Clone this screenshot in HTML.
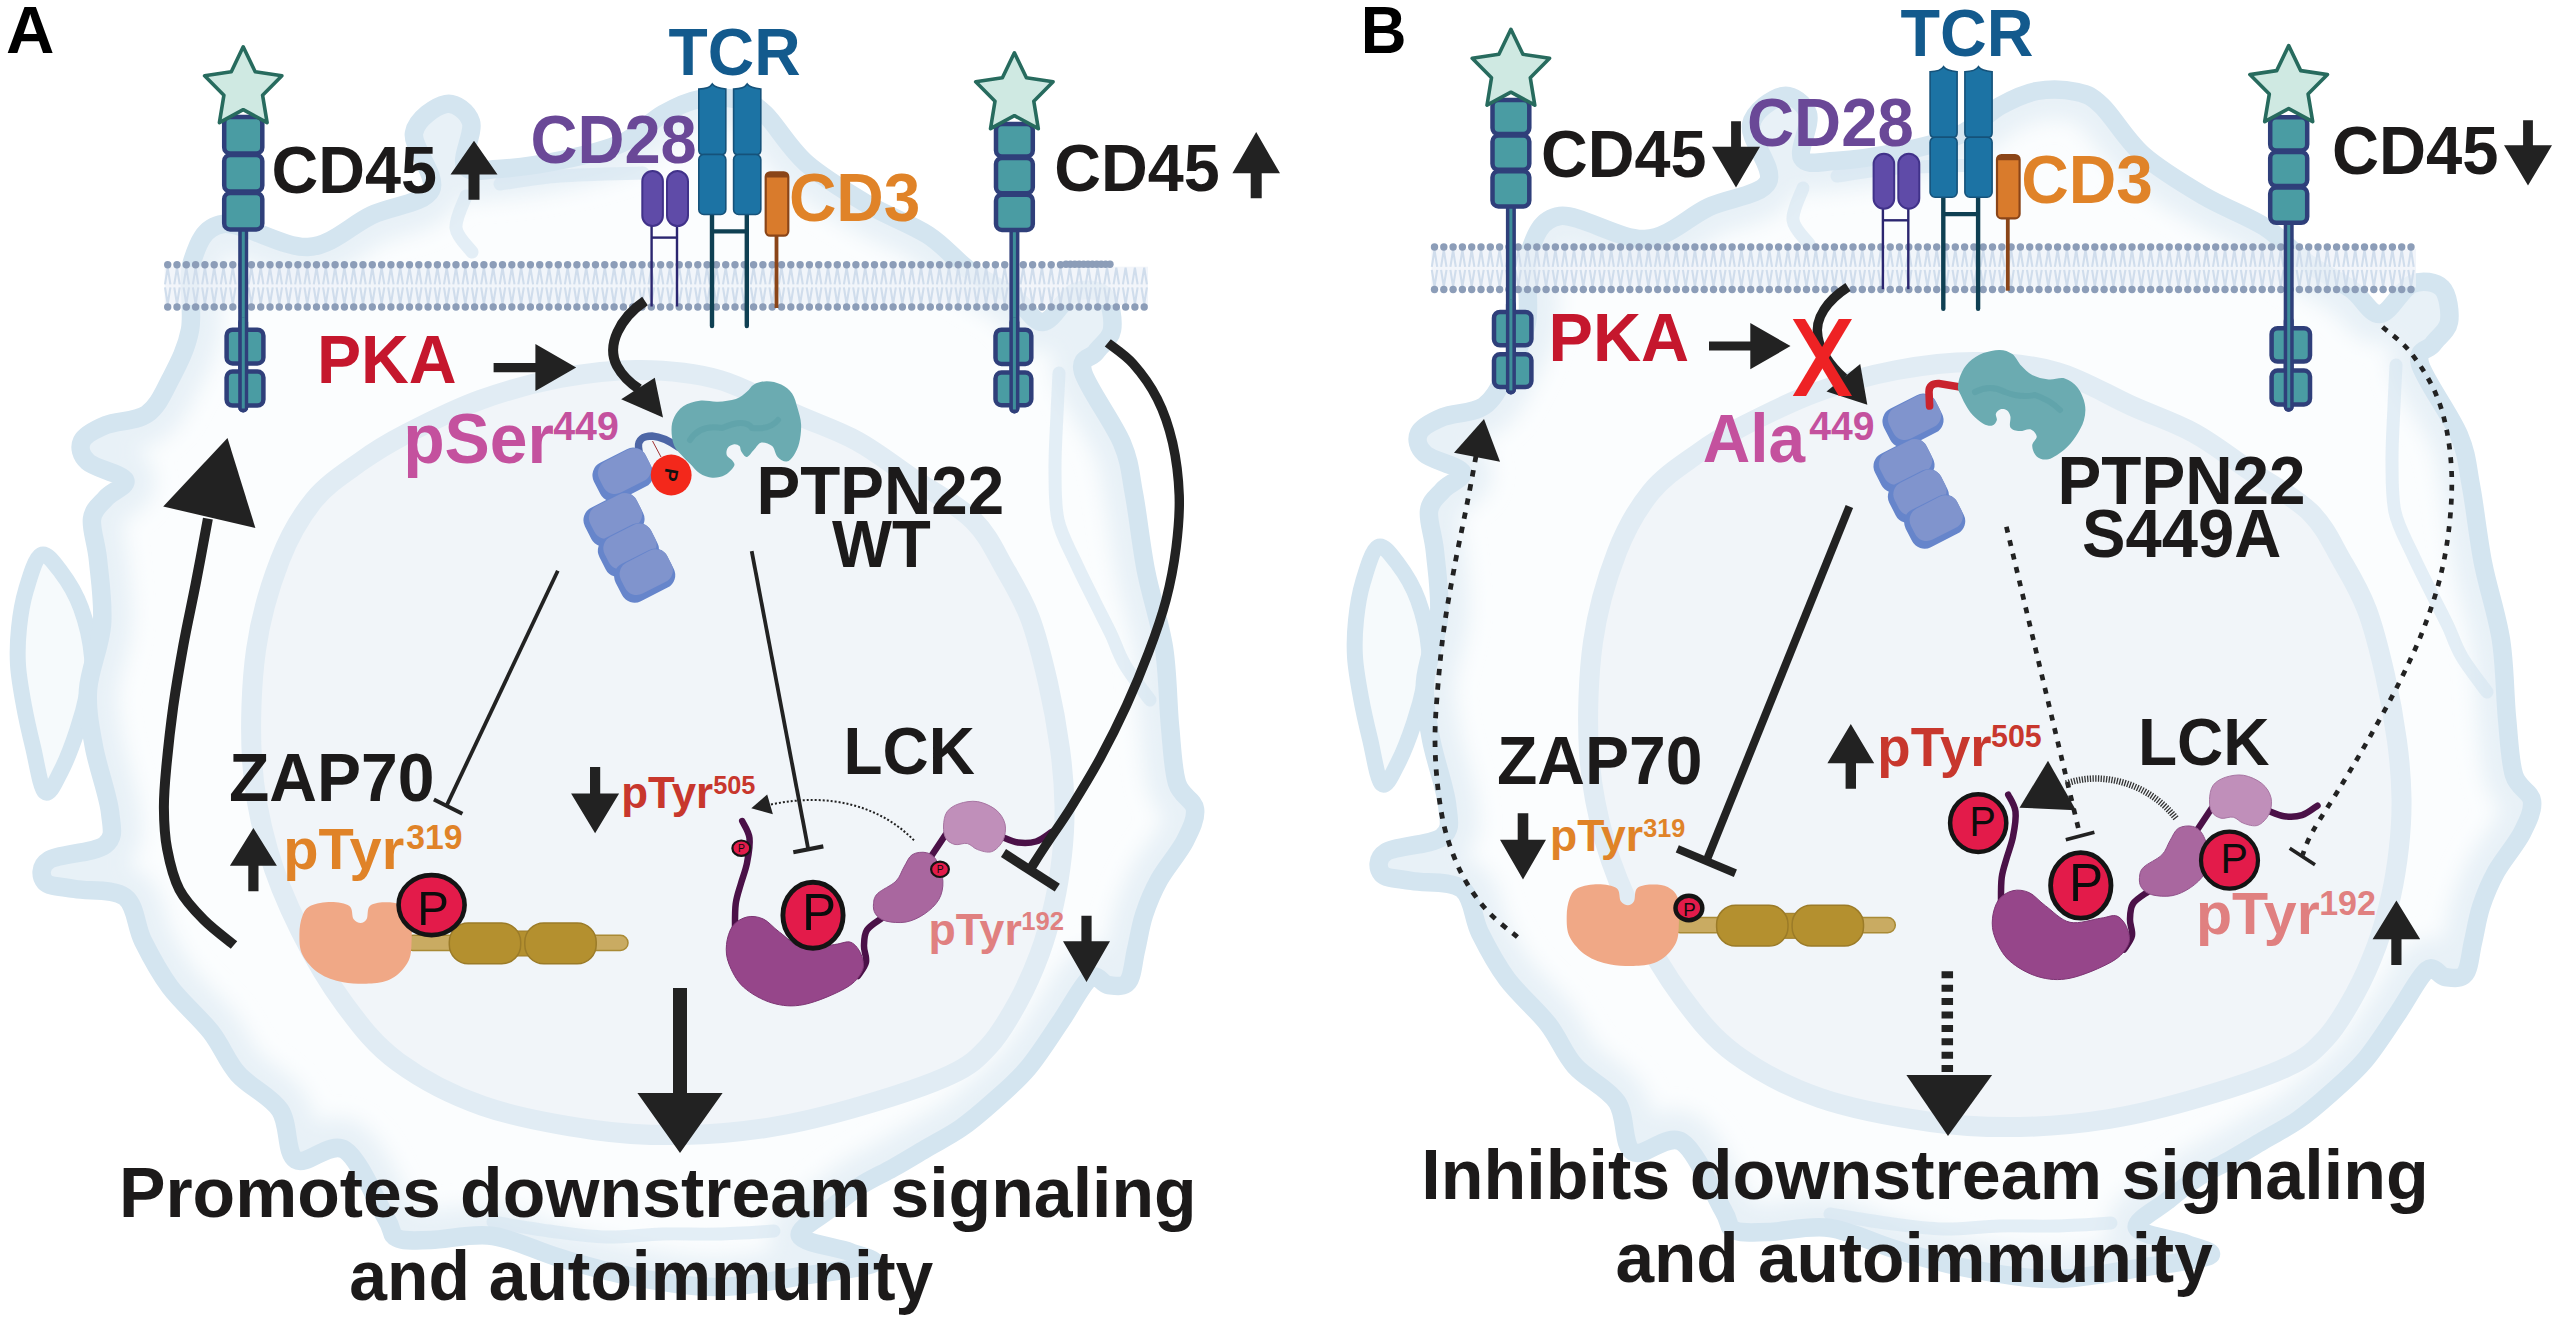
<!DOCTYPE html>
<html><head><meta charset="utf-8"><title>PTPN22 signaling</title>
<style>
html,body{margin:0;padding:0;background:#fff;}
body{width:2560px;height:1324px;overflow:hidden;}
svg{display:block;}
text{font-family:"Liberation Sans",sans-serif;font-weight:bold;}
.r{font-weight:normal;}
</style></head><body>
<svg xmlns="http://www.w3.org/2000/svg" width="2560" height="1324" viewBox="0 0 2560 1324">
<defs><filter id="soft" x="-5%" y="-5%" width="110%" height="110%"><feGaussianBlur stdDeviation="10"/></filter><filter id="soft2" x="-5%" y="-5%" width="110%" height="110%"><feGaussianBlur stdDeviation="4"/></filter></defs>
<g transform="translate(0.0,0.0)"><path d="M190.0,330.0 C193.7,310.3 186.5,279.7 192.0,262.0 C197.5,244.3 203.7,226.5 223.0,224.0 C242.3,221.5 283.2,248.5 308.0,247.0 C332.8,245.5 351.5,224.5 372.0,215.0 C392.5,205.5 424.0,203.7 431.0,190.0 C438.0,176.3 411.5,147.3 414.0,133.0 C416.5,118.7 436.5,105.8 446.0,104.0 C455.5,102.2 467.8,111.7 471.0,122.0 C474.2,132.3 460.5,158.2 465.0,166.0 C469.5,173.8 481.8,170.0 498.0,169.0 C514.2,168.0 541.3,164.3 562.0,160.0 C582.7,155.7 605.2,150.7 622.0,143.0 C638.8,135.3 650.0,121.3 663.0,114.0 C676.0,106.7 687.2,101.3 700.0,99.0 C712.8,96.7 729.2,97.5 740.0,100.0 C750.8,102.5 754.0,103.5 765.0,114.0 C776.0,124.5 789.0,148.0 806.0,163.0 C823.0,178.0 846.7,192.0 867.0,204.0 C887.3,216.0 911.0,224.0 928.0,235.0 C945.0,246.0 954.7,259.7 969.0,270.0 C983.3,280.3 1001.7,288.3 1014.0,297.0 C1026.3,305.7 1032.8,322.8 1043.0,322.0 C1053.2,321.2 1064.7,296.3 1075.0,292.0 C1085.3,287.7 1098.8,289.7 1105.0,296.0 C1111.2,302.3 1113.5,320.7 1112.0,330.0 C1110.5,339.3 1100.8,345.0 1096.0,352.0 C1091.2,359.0 1078.7,356.8 1083.0,372.0 C1087.3,387.2 1113.5,422.7 1122.0,443.0 C1130.5,463.3 1130.0,472.7 1134.0,494.0 C1138.0,515.3 1141.0,545.3 1146.0,571.0 C1151.0,596.7 1160.0,622.2 1164.0,648.0 C1168.0,673.8 1167.8,703.5 1170.0,726.0 C1172.2,748.5 1172.8,769.2 1177.0,783.0 C1181.2,796.8 1193.7,799.3 1195.0,809.0 C1196.3,818.7 1191.0,829.2 1185.0,841.0 C1179.0,852.8 1165.8,867.7 1159.0,880.0 C1152.2,892.3 1147.8,903.3 1144.0,915.0 C1140.2,926.7 1138.7,938.8 1136.0,950.0 C1133.3,961.2 1132.7,976.2 1128.0,982.0 C1123.3,987.8 1114.3,985.7 1108.0,985.0 C1101.7,984.3 1097.8,972.0 1090.0,978.0 C1082.2,984.0 1071.3,1006.0 1061.0,1021.0 C1050.7,1036.0 1039.2,1054.7 1028.0,1068.0 C1016.8,1081.3 1005.2,1091.0 994.0,1101.0 C982.8,1111.0 972.2,1120.2 961.0,1128.0 C949.8,1135.8 938.3,1141.3 927.0,1148.0 C915.7,1154.7 904.2,1161.7 893.0,1168.0 C881.8,1174.3 870.5,1179.2 860.0,1186.0 C849.5,1192.8 840.0,1200.7 830.0,1209.0 C820.0,1217.3 796.7,1228.8 800.0,1236.0 C803.3,1243.2 838.0,1247.3 850.0,1252.0 C862.0,1256.7 880.0,1260.0 872.0,1264.0 C864.0,1268.0 827.7,1272.2 802.0,1276.0 C776.3,1279.8 746.0,1286.8 718.0,1287.0 C690.0,1287.2 660.3,1281.8 634.0,1277.0 C607.7,1272.2 583.5,1264.8 560.0,1258.0 C536.5,1251.2 514.5,1239.0 493.0,1236.0 C471.5,1233.0 447.0,1239.7 431.0,1240.0 C415.0,1240.3 404.5,1241.7 397.0,1238.0 C389.5,1234.3 394.7,1232.7 386.0,1218.0 C377.3,1203.3 360.0,1159.7 345.0,1150.0 C330.0,1140.3 306.8,1166.7 296.0,1160.0 C285.2,1153.3 289.7,1124.3 280.0,1110.0 C270.3,1095.7 249.5,1087.0 238.0,1074.0 C226.5,1061.0 222.3,1046.5 211.0,1032.0 C199.7,1017.5 181.3,1002.2 170.0,987.0 C158.7,971.8 150.5,956.0 143.0,941.0 C135.5,926.0 136.3,905.7 125.0,897.0 C113.7,888.3 88.3,891.5 75.0,889.0 C61.7,886.5 49.3,886.8 45.0,882.0 C40.7,877.2 39.0,866.2 49.0,860.0 C59.0,853.8 94.8,853.0 105.0,845.0 C115.2,837.0 111.8,828.3 110.0,812.0 C108.2,795.7 97.7,767.3 94.0,747.0 C90.3,726.7 86.7,710.3 88.0,690.0 C89.3,669.7 100.3,646.7 102.0,625.0 C103.7,603.3 99.7,577.7 98.0,560.0 C96.3,542.3 90.7,529.3 92.0,519.0 C93.3,508.7 100.5,504.5 106.0,498.0 C111.5,491.5 128.0,486.0 125.0,480.0 C122.0,474.0 95.2,468.5 88.0,462.0 C80.8,455.5 79.0,447.2 82.0,441.0 C85.0,434.8 95.2,429.5 106.0,425.0 C116.8,420.5 136.3,421.5 147.0,414.0 C157.7,406.5 162.8,394.0 170.0,380.0 C177.2,366.0 186.3,349.7 190.0,330.0 Z" fill="#fbfdfe" stroke="none"/><clipPath id="cl0"><path d="M190.0,330.0 C193.7,310.3 186.5,279.7 192.0,262.0 C197.5,244.3 203.7,226.5 223.0,224.0 C242.3,221.5 283.2,248.5 308.0,247.0 C332.8,245.5 351.5,224.5 372.0,215.0 C392.5,205.5 424.0,203.7 431.0,190.0 C438.0,176.3 411.5,147.3 414.0,133.0 C416.5,118.7 436.5,105.8 446.0,104.0 C455.5,102.2 467.8,111.7 471.0,122.0 C474.2,132.3 460.5,158.2 465.0,166.0 C469.5,173.8 481.8,170.0 498.0,169.0 C514.2,168.0 541.3,164.3 562.0,160.0 C582.7,155.7 605.2,150.7 622.0,143.0 C638.8,135.3 650.0,121.3 663.0,114.0 C676.0,106.7 687.2,101.3 700.0,99.0 C712.8,96.7 729.2,97.5 740.0,100.0 C750.8,102.5 754.0,103.5 765.0,114.0 C776.0,124.5 789.0,148.0 806.0,163.0 C823.0,178.0 846.7,192.0 867.0,204.0 C887.3,216.0 911.0,224.0 928.0,235.0 C945.0,246.0 954.7,259.7 969.0,270.0 C983.3,280.3 1001.7,288.3 1014.0,297.0 C1026.3,305.7 1032.8,322.8 1043.0,322.0 C1053.2,321.2 1064.7,296.3 1075.0,292.0 C1085.3,287.7 1098.8,289.7 1105.0,296.0 C1111.2,302.3 1113.5,320.7 1112.0,330.0 C1110.5,339.3 1100.8,345.0 1096.0,352.0 C1091.2,359.0 1078.7,356.8 1083.0,372.0 C1087.3,387.2 1113.5,422.7 1122.0,443.0 C1130.5,463.3 1130.0,472.7 1134.0,494.0 C1138.0,515.3 1141.0,545.3 1146.0,571.0 C1151.0,596.7 1160.0,622.2 1164.0,648.0 C1168.0,673.8 1167.8,703.5 1170.0,726.0 C1172.2,748.5 1172.8,769.2 1177.0,783.0 C1181.2,796.8 1193.7,799.3 1195.0,809.0 C1196.3,818.7 1191.0,829.2 1185.0,841.0 C1179.0,852.8 1165.8,867.7 1159.0,880.0 C1152.2,892.3 1147.8,903.3 1144.0,915.0 C1140.2,926.7 1138.7,938.8 1136.0,950.0 C1133.3,961.2 1132.7,976.2 1128.0,982.0 C1123.3,987.8 1114.3,985.7 1108.0,985.0 C1101.7,984.3 1097.8,972.0 1090.0,978.0 C1082.2,984.0 1071.3,1006.0 1061.0,1021.0 C1050.7,1036.0 1039.2,1054.7 1028.0,1068.0 C1016.8,1081.3 1005.2,1091.0 994.0,1101.0 C982.8,1111.0 972.2,1120.2 961.0,1128.0 C949.8,1135.8 938.3,1141.3 927.0,1148.0 C915.7,1154.7 904.2,1161.7 893.0,1168.0 C881.8,1174.3 870.5,1179.2 860.0,1186.0 C849.5,1192.8 840.0,1200.7 830.0,1209.0 C820.0,1217.3 796.7,1228.8 800.0,1236.0 C803.3,1243.2 838.0,1247.3 850.0,1252.0 C862.0,1256.7 880.0,1260.0 872.0,1264.0 C864.0,1268.0 827.7,1272.2 802.0,1276.0 C776.3,1279.8 746.0,1286.8 718.0,1287.0 C690.0,1287.2 660.3,1281.8 634.0,1277.0 C607.7,1272.2 583.5,1264.8 560.0,1258.0 C536.5,1251.2 514.5,1239.0 493.0,1236.0 C471.5,1233.0 447.0,1239.7 431.0,1240.0 C415.0,1240.3 404.5,1241.7 397.0,1238.0 C389.5,1234.3 394.7,1232.7 386.0,1218.0 C377.3,1203.3 360.0,1159.7 345.0,1150.0 C330.0,1140.3 306.8,1166.7 296.0,1160.0 C285.2,1153.3 289.7,1124.3 280.0,1110.0 C270.3,1095.7 249.5,1087.0 238.0,1074.0 C226.5,1061.0 222.3,1046.5 211.0,1032.0 C199.7,1017.5 181.3,1002.2 170.0,987.0 C158.7,971.8 150.5,956.0 143.0,941.0 C135.5,926.0 136.3,905.7 125.0,897.0 C113.7,888.3 88.3,891.5 75.0,889.0 C61.7,886.5 49.3,886.8 45.0,882.0 C40.7,877.2 39.0,866.2 49.0,860.0 C59.0,853.8 94.8,853.0 105.0,845.0 C115.2,837.0 111.8,828.3 110.0,812.0 C108.2,795.7 97.7,767.3 94.0,747.0 C90.3,726.7 86.7,710.3 88.0,690.0 C89.3,669.7 100.3,646.7 102.0,625.0 C103.7,603.3 99.7,577.7 98.0,560.0 C96.3,542.3 90.7,529.3 92.0,519.0 C93.3,508.7 100.5,504.5 106.0,498.0 C111.5,491.5 128.0,486.0 125.0,480.0 C122.0,474.0 95.2,468.5 88.0,462.0 C80.8,455.5 79.0,447.2 82.0,441.0 C85.0,434.8 95.2,429.5 106.0,425.0 C116.8,420.5 136.3,421.5 147.0,414.0 C157.7,406.5 162.8,394.0 170.0,380.0 C177.2,366.0 186.3,349.7 190.0,330.0 Z"/></clipPath><g clip-path="url(#cl0)"><path d="M190.0,330.0 C193.7,310.3 186.5,279.7 192.0,262.0 C197.5,244.3 203.7,226.5 223.0,224.0 C242.3,221.5 283.2,248.5 308.0,247.0 C332.8,245.5 351.5,224.5 372.0,215.0 C392.5,205.5 424.0,203.7 431.0,190.0 C438.0,176.3 411.5,147.3 414.0,133.0 C416.5,118.7 436.5,105.8 446.0,104.0 C455.5,102.2 467.8,111.7 471.0,122.0 C474.2,132.3 460.5,158.2 465.0,166.0 C469.5,173.8 481.8,170.0 498.0,169.0 C514.2,168.0 541.3,164.3 562.0,160.0 C582.7,155.7 605.2,150.7 622.0,143.0 C638.8,135.3 650.0,121.3 663.0,114.0 C676.0,106.7 687.2,101.3 700.0,99.0 C712.8,96.7 729.2,97.5 740.0,100.0 C750.8,102.5 754.0,103.5 765.0,114.0 C776.0,124.5 789.0,148.0 806.0,163.0 C823.0,178.0 846.7,192.0 867.0,204.0 C887.3,216.0 911.0,224.0 928.0,235.0 C945.0,246.0 954.7,259.7 969.0,270.0 C983.3,280.3 1001.7,288.3 1014.0,297.0 C1026.3,305.7 1032.8,322.8 1043.0,322.0 C1053.2,321.2 1064.7,296.3 1075.0,292.0 C1085.3,287.7 1098.8,289.7 1105.0,296.0 C1111.2,302.3 1113.5,320.7 1112.0,330.0 C1110.5,339.3 1100.8,345.0 1096.0,352.0 C1091.2,359.0 1078.7,356.8 1083.0,372.0 C1087.3,387.2 1113.5,422.7 1122.0,443.0 C1130.5,463.3 1130.0,472.7 1134.0,494.0 C1138.0,515.3 1141.0,545.3 1146.0,571.0 C1151.0,596.7 1160.0,622.2 1164.0,648.0 C1168.0,673.8 1167.8,703.5 1170.0,726.0 C1172.2,748.5 1172.8,769.2 1177.0,783.0 C1181.2,796.8 1193.7,799.3 1195.0,809.0 C1196.3,818.7 1191.0,829.2 1185.0,841.0 C1179.0,852.8 1165.8,867.7 1159.0,880.0 C1152.2,892.3 1147.8,903.3 1144.0,915.0 C1140.2,926.7 1138.7,938.8 1136.0,950.0 C1133.3,961.2 1132.7,976.2 1128.0,982.0 C1123.3,987.8 1114.3,985.7 1108.0,985.0 C1101.7,984.3 1097.8,972.0 1090.0,978.0 C1082.2,984.0 1071.3,1006.0 1061.0,1021.0 C1050.7,1036.0 1039.2,1054.7 1028.0,1068.0 C1016.8,1081.3 1005.2,1091.0 994.0,1101.0 C982.8,1111.0 972.2,1120.2 961.0,1128.0 C949.8,1135.8 938.3,1141.3 927.0,1148.0 C915.7,1154.7 904.2,1161.7 893.0,1168.0 C881.8,1174.3 870.5,1179.2 860.0,1186.0 C849.5,1192.8 840.0,1200.7 830.0,1209.0 C820.0,1217.3 796.7,1228.8 800.0,1236.0 C803.3,1243.2 838.0,1247.3 850.0,1252.0 C862.0,1256.7 880.0,1260.0 872.0,1264.0 C864.0,1268.0 827.7,1272.2 802.0,1276.0 C776.3,1279.8 746.0,1286.8 718.0,1287.0 C690.0,1287.2 660.3,1281.8 634.0,1277.0 C607.7,1272.2 583.5,1264.8 560.0,1258.0 C536.5,1251.2 514.5,1239.0 493.0,1236.0 C471.5,1233.0 447.0,1239.7 431.0,1240.0 C415.0,1240.3 404.5,1241.7 397.0,1238.0 C389.5,1234.3 394.7,1232.7 386.0,1218.0 C377.3,1203.3 360.0,1159.7 345.0,1150.0 C330.0,1140.3 306.8,1166.7 296.0,1160.0 C285.2,1153.3 289.7,1124.3 280.0,1110.0 C270.3,1095.7 249.5,1087.0 238.0,1074.0 C226.5,1061.0 222.3,1046.5 211.0,1032.0 C199.7,1017.5 181.3,1002.2 170.0,987.0 C158.7,971.8 150.5,956.0 143.0,941.0 C135.5,926.0 136.3,905.7 125.0,897.0 C113.7,888.3 88.3,891.5 75.0,889.0 C61.7,886.5 49.3,886.8 45.0,882.0 C40.7,877.2 39.0,866.2 49.0,860.0 C59.0,853.8 94.8,853.0 105.0,845.0 C115.2,837.0 111.8,828.3 110.0,812.0 C108.2,795.7 97.7,767.3 94.0,747.0 C90.3,726.7 86.7,710.3 88.0,690.0 C89.3,669.7 100.3,646.7 102.0,625.0 C103.7,603.3 99.7,577.7 98.0,560.0 C96.3,542.3 90.7,529.3 92.0,519.0 C93.3,508.7 100.5,504.5 106.0,498.0 C111.5,491.5 128.0,486.0 125.0,480.0 C122.0,474.0 95.2,468.5 88.0,462.0 C80.8,455.5 79.0,447.2 82.0,441.0 C85.0,434.8 95.2,429.5 106.0,425.0 C116.8,420.5 136.3,421.5 147.0,414.0 C157.7,406.5 162.8,394.0 170.0,380.0 C177.2,366.0 186.3,349.7 190.0,330.0 Z" fill="none" stroke="#e8f1f7" stroke-width="60" filter="url(#soft)"/></g><path d="M466.0,196.0 C464.3,201.3 455.0,218.7 456.0,228.0 C457.0,237.3 469.3,248.0 472.0,252.0" fill="none" stroke="#d4e5f0" stroke-width="13" stroke-linecap="round" opacity="0.6"/><path d="M500.0,184.0 C510.0,182.7 536.2,177.8 560.0,176.0 C583.8,174.2 629.2,173.5 643.0,173.0" fill="none" stroke="#d4e5f0" stroke-width="13" stroke-linecap="round" opacity="0.6"/><path d="M1059.0,373.0 C1058.7,379.8 1057.7,397.8 1057.0,414.0 C1056.3,430.2 1054.8,452.3 1055.0,470.0 C1055.2,487.7 1054.7,504.8 1058.0,520.0 C1061.3,535.2 1068.8,547.3 1075.0,561.0 C1081.2,574.7 1089.0,589.8 1095.0,602.0 C1101.0,614.2 1106.0,623.5 1111.0,634.0 C1116.0,644.5 1118.5,654.0 1125.0,665.0 C1131.5,676.0 1145.8,694.2 1150.0,700.0" fill="none" stroke="#d4e5f0" stroke-width="13" stroke-linecap="round" opacity="0.6"/><path d="M493.0,1222.0 C502.3,1223.5 530.2,1228.5 549.0,1231.0 C567.8,1233.5 587.2,1236.5 606.0,1237.0 C624.8,1237.5 643.3,1234.5 662.0,1234.0 C680.7,1233.5 699.3,1234.5 718.0,1234.0 C736.7,1233.5 764.7,1231.5 774.0,1231.0" fill="none" stroke="#d4e5f0" stroke-width="13" stroke-linecap="round" opacity="0.6"/><path d="M41.0,555.0 C35.2,558.0 29.7,577.8 26.0,590.0 C22.3,602.2 20.3,615.5 19.0,628.0 C17.7,640.5 17.2,652.0 18.0,665.0 C18.8,678.0 21.5,692.3 24.0,706.0 C26.5,719.7 29.5,732.7 33.0,747.0 C36.5,761.3 40.3,788.0 45.0,792.0 C49.7,796.0 55.7,781.2 61.0,771.0 C66.3,760.8 72.5,744.5 77.0,731.0 C81.5,717.5 85.5,702.3 88.0,690.0 C90.5,677.7 93.2,670.7 92.0,657.0 C90.8,643.3 86.2,622.2 81.0,608.0 C75.8,593.8 67.7,580.8 61.0,572.0 C54.3,563.2 46.8,552.0 41.0,555.0 Z" fill="#f6fafc" stroke="#d4e5f0" stroke-width="16" stroke-linejoin="round"/><path d="M190.0,330.0 C193.7,310.3 186.5,279.7 192.0,262.0 C197.5,244.3 203.7,226.5 223.0,224.0 C242.3,221.5 283.2,248.5 308.0,247.0 C332.8,245.5 351.5,224.5 372.0,215.0 C392.5,205.5 424.0,203.7 431.0,190.0 C438.0,176.3 411.5,147.3 414.0,133.0 C416.5,118.7 436.5,105.8 446.0,104.0 C455.5,102.2 467.8,111.7 471.0,122.0 C474.2,132.3 460.5,158.2 465.0,166.0 C469.5,173.8 481.8,170.0 498.0,169.0 C514.2,168.0 541.3,164.3 562.0,160.0 C582.7,155.7 605.2,150.7 622.0,143.0 C638.8,135.3 650.0,121.3 663.0,114.0 C676.0,106.7 687.2,101.3 700.0,99.0 C712.8,96.7 729.2,97.5 740.0,100.0 C750.8,102.5 754.0,103.5 765.0,114.0 C776.0,124.5 789.0,148.0 806.0,163.0 C823.0,178.0 846.7,192.0 867.0,204.0 C887.3,216.0 911.0,224.0 928.0,235.0 C945.0,246.0 954.7,259.7 969.0,270.0 C983.3,280.3 1001.7,288.3 1014.0,297.0 C1026.3,305.7 1032.8,322.8 1043.0,322.0 C1053.2,321.2 1064.7,296.3 1075.0,292.0 C1085.3,287.7 1098.8,289.7 1105.0,296.0 C1111.2,302.3 1113.5,320.7 1112.0,330.0 C1110.5,339.3 1100.8,345.0 1096.0,352.0 C1091.2,359.0 1078.7,356.8 1083.0,372.0 C1087.3,387.2 1113.5,422.7 1122.0,443.0 C1130.5,463.3 1130.0,472.7 1134.0,494.0 C1138.0,515.3 1141.0,545.3 1146.0,571.0 C1151.0,596.7 1160.0,622.2 1164.0,648.0 C1168.0,673.8 1167.8,703.5 1170.0,726.0 C1172.2,748.5 1172.8,769.2 1177.0,783.0 C1181.2,796.8 1193.7,799.3 1195.0,809.0 C1196.3,818.7 1191.0,829.2 1185.0,841.0 C1179.0,852.8 1165.8,867.7 1159.0,880.0 C1152.2,892.3 1147.8,903.3 1144.0,915.0 C1140.2,926.7 1138.7,938.8 1136.0,950.0 C1133.3,961.2 1132.7,976.2 1128.0,982.0 C1123.3,987.8 1114.3,985.7 1108.0,985.0 C1101.7,984.3 1097.8,972.0 1090.0,978.0 C1082.2,984.0 1071.3,1006.0 1061.0,1021.0 C1050.7,1036.0 1039.2,1054.7 1028.0,1068.0 C1016.8,1081.3 1005.2,1091.0 994.0,1101.0 C982.8,1111.0 972.2,1120.2 961.0,1128.0 C949.8,1135.8 938.3,1141.3 927.0,1148.0 C915.7,1154.7 904.2,1161.7 893.0,1168.0 C881.8,1174.3 870.5,1179.2 860.0,1186.0 C849.5,1192.8 840.0,1200.7 830.0,1209.0 C820.0,1217.3 796.7,1228.8 800.0,1236.0 C803.3,1243.2 838.0,1247.3 850.0,1252.0 C862.0,1256.7 880.0,1260.0 872.0,1264.0 C864.0,1268.0 827.7,1272.2 802.0,1276.0 C776.3,1279.8 746.0,1286.8 718.0,1287.0 C690.0,1287.2 660.3,1281.8 634.0,1277.0 C607.7,1272.2 583.5,1264.8 560.0,1258.0 C536.5,1251.2 514.5,1239.0 493.0,1236.0 C471.5,1233.0 447.0,1239.7 431.0,1240.0 C415.0,1240.3 404.5,1241.7 397.0,1238.0 C389.5,1234.3 394.7,1232.7 386.0,1218.0 C377.3,1203.3 360.0,1159.7 345.0,1150.0 C330.0,1140.3 306.8,1166.7 296.0,1160.0 C285.2,1153.3 289.7,1124.3 280.0,1110.0 C270.3,1095.7 249.5,1087.0 238.0,1074.0 C226.5,1061.0 222.3,1046.5 211.0,1032.0 C199.7,1017.5 181.3,1002.2 170.0,987.0 C158.7,971.8 150.5,956.0 143.0,941.0 C135.5,926.0 136.3,905.7 125.0,897.0 C113.7,888.3 88.3,891.5 75.0,889.0 C61.7,886.5 49.3,886.8 45.0,882.0 C40.7,877.2 39.0,866.2 49.0,860.0 C59.0,853.8 94.8,853.0 105.0,845.0 C115.2,837.0 111.8,828.3 110.0,812.0 C108.2,795.7 97.7,767.3 94.0,747.0 C90.3,726.7 86.7,710.3 88.0,690.0 C89.3,669.7 100.3,646.7 102.0,625.0 C103.7,603.3 99.7,577.7 98.0,560.0 C96.3,542.3 90.7,529.3 92.0,519.0 C93.3,508.7 100.5,504.5 106.0,498.0 C111.5,491.5 128.0,486.0 125.0,480.0 C122.0,474.0 95.2,468.5 88.0,462.0 C80.8,455.5 79.0,447.2 82.0,441.0 C85.0,434.8 95.2,429.5 106.0,425.0 C116.8,420.5 136.3,421.5 147.0,414.0 C157.7,406.5 162.8,394.0 170.0,380.0 C177.2,366.0 186.3,349.7 190.0,330.0 Z" fill="none" stroke="#d4e5f0" stroke-width="18.5" stroke-linejoin="round"/><path d="M252.0,760.0 C250.0,726.7 251.3,683.3 256.0,650.0 C260.7,616.7 270.3,585.0 280.0,560.0 C289.7,535.0 300.7,516.3 314.0,500.0 C327.3,483.7 344.7,473.0 360.0,462.0 C375.3,451.0 386.0,444.3 406.0,434.0 C426.0,423.7 454.3,409.3 480.0,400.0 C505.7,390.7 533.3,383.0 560.0,378.0 C586.7,373.0 613.3,369.7 640.0,370.0 C666.7,370.3 694.2,372.7 720.0,380.0 C745.8,387.3 772.2,403.8 795.0,414.0 C817.8,424.2 837.5,430.3 857.0,441.0 C876.5,451.7 892.7,464.8 912.0,478.0 C931.3,491.2 957.5,504.8 973.0,520.0 C988.5,535.2 995.5,552.7 1005.0,569.0 C1014.5,585.3 1022.8,599.0 1030.0,618.0 C1037.2,637.0 1043.0,661.2 1048.0,683.0 C1053.0,704.8 1057.2,728.5 1060.0,749.0 C1062.8,769.5 1064.2,788.3 1064.5,806.0 C1064.8,823.7 1063.8,838.7 1062.0,855.0 C1060.2,871.3 1057.7,887.7 1054.0,904.0 C1050.3,920.3 1046.0,936.7 1040.0,953.0 C1034.0,969.3 1026.5,986.5 1018.0,1002.0 C1009.5,1017.5 1000.3,1033.8 989.0,1046.0 C977.7,1058.2 971.3,1065.0 950.0,1075.0 C928.7,1085.0 890.7,1097.3 861.0,1106.0 C831.3,1114.7 801.7,1122.2 772.0,1127.0 C742.3,1131.8 712.7,1134.5 683.0,1135.0 C653.3,1135.5 627.3,1134.8 594.0,1130.0 C560.7,1125.2 515.7,1117.3 483.0,1106.0 C450.3,1094.7 421.0,1078.8 398.0,1062.0 C375.0,1045.2 361.3,1027.0 345.0,1005.0 C328.7,983.0 312.8,955.8 300.0,930.0 C287.2,904.2 276.0,878.3 268.0,850.0 C260.0,821.7 254.0,793.3 252.0,760.0 Z" fill="#f1f5f9" stroke="#e1ecf4" stroke-width="20"/></g>
<g transform="translate(1337.0,-8.0)"><path d="M190.0,330.0 C193.7,310.3 186.5,279.7 192.0,262.0 C197.5,244.3 203.7,226.5 223.0,224.0 C242.3,221.5 283.2,248.5 308.0,247.0 C332.8,245.5 351.5,224.5 372.0,215.0 C392.5,205.5 424.0,203.7 431.0,190.0 C438.0,176.3 411.5,147.3 414.0,133.0 C416.5,118.7 436.5,105.8 446.0,104.0 C455.5,102.2 467.8,111.7 471.0,122.0 C474.2,132.3 460.5,158.2 465.0,166.0 C469.5,173.8 481.8,170.0 498.0,169.0 C514.2,168.0 541.3,164.3 562.0,160.0 C582.7,155.7 605.2,150.7 622.0,143.0 C638.8,135.3 650.0,121.3 663.0,114.0 C676.0,106.7 687.2,101.3 700.0,99.0 C712.8,96.7 729.2,97.5 740.0,100.0 C750.8,102.5 754.0,103.5 765.0,114.0 C776.0,124.5 789.0,148.0 806.0,163.0 C823.0,178.0 846.7,192.0 867.0,204.0 C887.3,216.0 911.0,224.0 928.0,235.0 C945.0,246.0 954.7,259.7 969.0,270.0 C983.3,280.3 1001.7,288.3 1014.0,297.0 C1026.3,305.7 1032.8,322.8 1043.0,322.0 C1053.2,321.2 1064.7,296.3 1075.0,292.0 C1085.3,287.7 1098.8,289.7 1105.0,296.0 C1111.2,302.3 1113.5,320.7 1112.0,330.0 C1110.5,339.3 1100.8,345.0 1096.0,352.0 C1091.2,359.0 1078.7,356.8 1083.0,372.0 C1087.3,387.2 1113.5,422.7 1122.0,443.0 C1130.5,463.3 1130.0,472.7 1134.0,494.0 C1138.0,515.3 1141.0,545.3 1146.0,571.0 C1151.0,596.7 1160.0,622.2 1164.0,648.0 C1168.0,673.8 1167.8,703.5 1170.0,726.0 C1172.2,748.5 1172.8,769.2 1177.0,783.0 C1181.2,796.8 1193.7,799.3 1195.0,809.0 C1196.3,818.7 1191.0,829.2 1185.0,841.0 C1179.0,852.8 1165.8,867.7 1159.0,880.0 C1152.2,892.3 1147.8,903.3 1144.0,915.0 C1140.2,926.7 1138.7,938.8 1136.0,950.0 C1133.3,961.2 1132.7,976.2 1128.0,982.0 C1123.3,987.8 1114.3,985.7 1108.0,985.0 C1101.7,984.3 1097.8,972.0 1090.0,978.0 C1082.2,984.0 1071.3,1006.0 1061.0,1021.0 C1050.7,1036.0 1039.2,1054.7 1028.0,1068.0 C1016.8,1081.3 1005.2,1091.0 994.0,1101.0 C982.8,1111.0 972.2,1120.2 961.0,1128.0 C949.8,1135.8 938.3,1141.3 927.0,1148.0 C915.7,1154.7 904.2,1161.7 893.0,1168.0 C881.8,1174.3 870.5,1179.2 860.0,1186.0 C849.5,1192.8 840.0,1200.7 830.0,1209.0 C820.0,1217.3 796.7,1228.8 800.0,1236.0 C803.3,1243.2 838.0,1247.3 850.0,1252.0 C862.0,1256.7 880.0,1260.0 872.0,1264.0 C864.0,1268.0 827.7,1272.2 802.0,1276.0 C776.3,1279.8 746.0,1286.8 718.0,1287.0 C690.0,1287.2 660.3,1281.8 634.0,1277.0 C607.7,1272.2 583.5,1264.8 560.0,1258.0 C536.5,1251.2 514.5,1239.0 493.0,1236.0 C471.5,1233.0 447.0,1239.7 431.0,1240.0 C415.0,1240.3 404.5,1241.7 397.0,1238.0 C389.5,1234.3 394.7,1232.7 386.0,1218.0 C377.3,1203.3 360.0,1159.7 345.0,1150.0 C330.0,1140.3 306.8,1166.7 296.0,1160.0 C285.2,1153.3 289.7,1124.3 280.0,1110.0 C270.3,1095.7 249.5,1087.0 238.0,1074.0 C226.5,1061.0 222.3,1046.5 211.0,1032.0 C199.7,1017.5 181.3,1002.2 170.0,987.0 C158.7,971.8 150.5,956.0 143.0,941.0 C135.5,926.0 136.3,905.7 125.0,897.0 C113.7,888.3 88.3,891.5 75.0,889.0 C61.7,886.5 49.3,886.8 45.0,882.0 C40.7,877.2 39.0,866.2 49.0,860.0 C59.0,853.8 94.8,853.0 105.0,845.0 C115.2,837.0 111.8,828.3 110.0,812.0 C108.2,795.7 97.7,767.3 94.0,747.0 C90.3,726.7 86.7,710.3 88.0,690.0 C89.3,669.7 100.3,646.7 102.0,625.0 C103.7,603.3 99.7,577.7 98.0,560.0 C96.3,542.3 90.7,529.3 92.0,519.0 C93.3,508.7 100.5,504.5 106.0,498.0 C111.5,491.5 128.0,486.0 125.0,480.0 C122.0,474.0 95.2,468.5 88.0,462.0 C80.8,455.5 79.0,447.2 82.0,441.0 C85.0,434.8 95.2,429.5 106.0,425.0 C116.8,420.5 136.3,421.5 147.0,414.0 C157.7,406.5 162.8,394.0 170.0,380.0 C177.2,366.0 186.3,349.7 190.0,330.0 Z" fill="#fbfdfe" stroke="none"/><clipPath id="cl1337"><path d="M190.0,330.0 C193.7,310.3 186.5,279.7 192.0,262.0 C197.5,244.3 203.7,226.5 223.0,224.0 C242.3,221.5 283.2,248.5 308.0,247.0 C332.8,245.5 351.5,224.5 372.0,215.0 C392.5,205.5 424.0,203.7 431.0,190.0 C438.0,176.3 411.5,147.3 414.0,133.0 C416.5,118.7 436.5,105.8 446.0,104.0 C455.5,102.2 467.8,111.7 471.0,122.0 C474.2,132.3 460.5,158.2 465.0,166.0 C469.5,173.8 481.8,170.0 498.0,169.0 C514.2,168.0 541.3,164.3 562.0,160.0 C582.7,155.7 605.2,150.7 622.0,143.0 C638.8,135.3 650.0,121.3 663.0,114.0 C676.0,106.7 687.2,101.3 700.0,99.0 C712.8,96.7 729.2,97.5 740.0,100.0 C750.8,102.5 754.0,103.5 765.0,114.0 C776.0,124.5 789.0,148.0 806.0,163.0 C823.0,178.0 846.7,192.0 867.0,204.0 C887.3,216.0 911.0,224.0 928.0,235.0 C945.0,246.0 954.7,259.7 969.0,270.0 C983.3,280.3 1001.7,288.3 1014.0,297.0 C1026.3,305.7 1032.8,322.8 1043.0,322.0 C1053.2,321.2 1064.7,296.3 1075.0,292.0 C1085.3,287.7 1098.8,289.7 1105.0,296.0 C1111.2,302.3 1113.5,320.7 1112.0,330.0 C1110.5,339.3 1100.8,345.0 1096.0,352.0 C1091.2,359.0 1078.7,356.8 1083.0,372.0 C1087.3,387.2 1113.5,422.7 1122.0,443.0 C1130.5,463.3 1130.0,472.7 1134.0,494.0 C1138.0,515.3 1141.0,545.3 1146.0,571.0 C1151.0,596.7 1160.0,622.2 1164.0,648.0 C1168.0,673.8 1167.8,703.5 1170.0,726.0 C1172.2,748.5 1172.8,769.2 1177.0,783.0 C1181.2,796.8 1193.7,799.3 1195.0,809.0 C1196.3,818.7 1191.0,829.2 1185.0,841.0 C1179.0,852.8 1165.8,867.7 1159.0,880.0 C1152.2,892.3 1147.8,903.3 1144.0,915.0 C1140.2,926.7 1138.7,938.8 1136.0,950.0 C1133.3,961.2 1132.7,976.2 1128.0,982.0 C1123.3,987.8 1114.3,985.7 1108.0,985.0 C1101.7,984.3 1097.8,972.0 1090.0,978.0 C1082.2,984.0 1071.3,1006.0 1061.0,1021.0 C1050.7,1036.0 1039.2,1054.7 1028.0,1068.0 C1016.8,1081.3 1005.2,1091.0 994.0,1101.0 C982.8,1111.0 972.2,1120.2 961.0,1128.0 C949.8,1135.8 938.3,1141.3 927.0,1148.0 C915.7,1154.7 904.2,1161.7 893.0,1168.0 C881.8,1174.3 870.5,1179.2 860.0,1186.0 C849.5,1192.8 840.0,1200.7 830.0,1209.0 C820.0,1217.3 796.7,1228.8 800.0,1236.0 C803.3,1243.2 838.0,1247.3 850.0,1252.0 C862.0,1256.7 880.0,1260.0 872.0,1264.0 C864.0,1268.0 827.7,1272.2 802.0,1276.0 C776.3,1279.8 746.0,1286.8 718.0,1287.0 C690.0,1287.2 660.3,1281.8 634.0,1277.0 C607.7,1272.2 583.5,1264.8 560.0,1258.0 C536.5,1251.2 514.5,1239.0 493.0,1236.0 C471.5,1233.0 447.0,1239.7 431.0,1240.0 C415.0,1240.3 404.5,1241.7 397.0,1238.0 C389.5,1234.3 394.7,1232.7 386.0,1218.0 C377.3,1203.3 360.0,1159.7 345.0,1150.0 C330.0,1140.3 306.8,1166.7 296.0,1160.0 C285.2,1153.3 289.7,1124.3 280.0,1110.0 C270.3,1095.7 249.5,1087.0 238.0,1074.0 C226.5,1061.0 222.3,1046.5 211.0,1032.0 C199.7,1017.5 181.3,1002.2 170.0,987.0 C158.7,971.8 150.5,956.0 143.0,941.0 C135.5,926.0 136.3,905.7 125.0,897.0 C113.7,888.3 88.3,891.5 75.0,889.0 C61.7,886.5 49.3,886.8 45.0,882.0 C40.7,877.2 39.0,866.2 49.0,860.0 C59.0,853.8 94.8,853.0 105.0,845.0 C115.2,837.0 111.8,828.3 110.0,812.0 C108.2,795.7 97.7,767.3 94.0,747.0 C90.3,726.7 86.7,710.3 88.0,690.0 C89.3,669.7 100.3,646.7 102.0,625.0 C103.7,603.3 99.7,577.7 98.0,560.0 C96.3,542.3 90.7,529.3 92.0,519.0 C93.3,508.7 100.5,504.5 106.0,498.0 C111.5,491.5 128.0,486.0 125.0,480.0 C122.0,474.0 95.2,468.5 88.0,462.0 C80.8,455.5 79.0,447.2 82.0,441.0 C85.0,434.8 95.2,429.5 106.0,425.0 C116.8,420.5 136.3,421.5 147.0,414.0 C157.7,406.5 162.8,394.0 170.0,380.0 C177.2,366.0 186.3,349.7 190.0,330.0 Z"/></clipPath><g clip-path="url(#cl1337)"><path d="M190.0,330.0 C193.7,310.3 186.5,279.7 192.0,262.0 C197.5,244.3 203.7,226.5 223.0,224.0 C242.3,221.5 283.2,248.5 308.0,247.0 C332.8,245.5 351.5,224.5 372.0,215.0 C392.5,205.5 424.0,203.7 431.0,190.0 C438.0,176.3 411.5,147.3 414.0,133.0 C416.5,118.7 436.5,105.8 446.0,104.0 C455.5,102.2 467.8,111.7 471.0,122.0 C474.2,132.3 460.5,158.2 465.0,166.0 C469.5,173.8 481.8,170.0 498.0,169.0 C514.2,168.0 541.3,164.3 562.0,160.0 C582.7,155.7 605.2,150.7 622.0,143.0 C638.8,135.3 650.0,121.3 663.0,114.0 C676.0,106.7 687.2,101.3 700.0,99.0 C712.8,96.7 729.2,97.5 740.0,100.0 C750.8,102.5 754.0,103.5 765.0,114.0 C776.0,124.5 789.0,148.0 806.0,163.0 C823.0,178.0 846.7,192.0 867.0,204.0 C887.3,216.0 911.0,224.0 928.0,235.0 C945.0,246.0 954.7,259.7 969.0,270.0 C983.3,280.3 1001.7,288.3 1014.0,297.0 C1026.3,305.7 1032.8,322.8 1043.0,322.0 C1053.2,321.2 1064.7,296.3 1075.0,292.0 C1085.3,287.7 1098.8,289.7 1105.0,296.0 C1111.2,302.3 1113.5,320.7 1112.0,330.0 C1110.5,339.3 1100.8,345.0 1096.0,352.0 C1091.2,359.0 1078.7,356.8 1083.0,372.0 C1087.3,387.2 1113.5,422.7 1122.0,443.0 C1130.5,463.3 1130.0,472.7 1134.0,494.0 C1138.0,515.3 1141.0,545.3 1146.0,571.0 C1151.0,596.7 1160.0,622.2 1164.0,648.0 C1168.0,673.8 1167.8,703.5 1170.0,726.0 C1172.2,748.5 1172.8,769.2 1177.0,783.0 C1181.2,796.8 1193.7,799.3 1195.0,809.0 C1196.3,818.7 1191.0,829.2 1185.0,841.0 C1179.0,852.8 1165.8,867.7 1159.0,880.0 C1152.2,892.3 1147.8,903.3 1144.0,915.0 C1140.2,926.7 1138.7,938.8 1136.0,950.0 C1133.3,961.2 1132.7,976.2 1128.0,982.0 C1123.3,987.8 1114.3,985.7 1108.0,985.0 C1101.7,984.3 1097.8,972.0 1090.0,978.0 C1082.2,984.0 1071.3,1006.0 1061.0,1021.0 C1050.7,1036.0 1039.2,1054.7 1028.0,1068.0 C1016.8,1081.3 1005.2,1091.0 994.0,1101.0 C982.8,1111.0 972.2,1120.2 961.0,1128.0 C949.8,1135.8 938.3,1141.3 927.0,1148.0 C915.7,1154.7 904.2,1161.7 893.0,1168.0 C881.8,1174.3 870.5,1179.2 860.0,1186.0 C849.5,1192.8 840.0,1200.7 830.0,1209.0 C820.0,1217.3 796.7,1228.8 800.0,1236.0 C803.3,1243.2 838.0,1247.3 850.0,1252.0 C862.0,1256.7 880.0,1260.0 872.0,1264.0 C864.0,1268.0 827.7,1272.2 802.0,1276.0 C776.3,1279.8 746.0,1286.8 718.0,1287.0 C690.0,1287.2 660.3,1281.8 634.0,1277.0 C607.7,1272.2 583.5,1264.8 560.0,1258.0 C536.5,1251.2 514.5,1239.0 493.0,1236.0 C471.5,1233.0 447.0,1239.7 431.0,1240.0 C415.0,1240.3 404.5,1241.7 397.0,1238.0 C389.5,1234.3 394.7,1232.7 386.0,1218.0 C377.3,1203.3 360.0,1159.7 345.0,1150.0 C330.0,1140.3 306.8,1166.7 296.0,1160.0 C285.2,1153.3 289.7,1124.3 280.0,1110.0 C270.3,1095.7 249.5,1087.0 238.0,1074.0 C226.5,1061.0 222.3,1046.5 211.0,1032.0 C199.7,1017.5 181.3,1002.2 170.0,987.0 C158.7,971.8 150.5,956.0 143.0,941.0 C135.5,926.0 136.3,905.7 125.0,897.0 C113.7,888.3 88.3,891.5 75.0,889.0 C61.7,886.5 49.3,886.8 45.0,882.0 C40.7,877.2 39.0,866.2 49.0,860.0 C59.0,853.8 94.8,853.0 105.0,845.0 C115.2,837.0 111.8,828.3 110.0,812.0 C108.2,795.7 97.7,767.3 94.0,747.0 C90.3,726.7 86.7,710.3 88.0,690.0 C89.3,669.7 100.3,646.7 102.0,625.0 C103.7,603.3 99.7,577.7 98.0,560.0 C96.3,542.3 90.7,529.3 92.0,519.0 C93.3,508.7 100.5,504.5 106.0,498.0 C111.5,491.5 128.0,486.0 125.0,480.0 C122.0,474.0 95.2,468.5 88.0,462.0 C80.8,455.5 79.0,447.2 82.0,441.0 C85.0,434.8 95.2,429.5 106.0,425.0 C116.8,420.5 136.3,421.5 147.0,414.0 C157.7,406.5 162.8,394.0 170.0,380.0 C177.2,366.0 186.3,349.7 190.0,330.0 Z" fill="none" stroke="#e8f1f7" stroke-width="60" filter="url(#soft)"/></g><path d="M466.0,196.0 C464.3,201.3 455.0,218.7 456.0,228.0 C457.0,237.3 469.3,248.0 472.0,252.0" fill="none" stroke="#d4e5f0" stroke-width="13" stroke-linecap="round" opacity="0.6"/><path d="M500.0,184.0 C510.0,182.7 536.2,177.8 560.0,176.0 C583.8,174.2 629.2,173.5 643.0,173.0" fill="none" stroke="#d4e5f0" stroke-width="13" stroke-linecap="round" opacity="0.6"/><path d="M1059.0,373.0 C1058.7,379.8 1057.7,397.8 1057.0,414.0 C1056.3,430.2 1054.8,452.3 1055.0,470.0 C1055.2,487.7 1054.7,504.8 1058.0,520.0 C1061.3,535.2 1068.8,547.3 1075.0,561.0 C1081.2,574.7 1089.0,589.8 1095.0,602.0 C1101.0,614.2 1106.0,623.5 1111.0,634.0 C1116.0,644.5 1118.5,654.0 1125.0,665.0 C1131.5,676.0 1145.8,694.2 1150.0,700.0" fill="none" stroke="#d4e5f0" stroke-width="13" stroke-linecap="round" opacity="0.6"/><path d="M493.0,1222.0 C502.3,1223.5 530.2,1228.5 549.0,1231.0 C567.8,1233.5 587.2,1236.5 606.0,1237.0 C624.8,1237.5 643.3,1234.5 662.0,1234.0 C680.7,1233.5 699.3,1234.5 718.0,1234.0 C736.7,1233.5 764.7,1231.5 774.0,1231.0" fill="none" stroke="#d4e5f0" stroke-width="13" stroke-linecap="round" opacity="0.6"/><path d="M41.0,555.0 C35.2,558.0 29.7,577.8 26.0,590.0 C22.3,602.2 20.3,615.5 19.0,628.0 C17.7,640.5 17.2,652.0 18.0,665.0 C18.8,678.0 21.5,692.3 24.0,706.0 C26.5,719.7 29.5,732.7 33.0,747.0 C36.5,761.3 40.3,788.0 45.0,792.0 C49.7,796.0 55.7,781.2 61.0,771.0 C66.3,760.8 72.5,744.5 77.0,731.0 C81.5,717.5 85.5,702.3 88.0,690.0 C90.5,677.7 93.2,670.7 92.0,657.0 C90.8,643.3 86.2,622.2 81.0,608.0 C75.8,593.8 67.7,580.8 61.0,572.0 C54.3,563.2 46.8,552.0 41.0,555.0 Z" fill="#f6fafc" stroke="#d4e5f0" stroke-width="16" stroke-linejoin="round"/><path d="M190.0,330.0 C193.7,310.3 186.5,279.7 192.0,262.0 C197.5,244.3 203.7,226.5 223.0,224.0 C242.3,221.5 283.2,248.5 308.0,247.0 C332.8,245.5 351.5,224.5 372.0,215.0 C392.5,205.5 424.0,203.7 431.0,190.0 C438.0,176.3 411.5,147.3 414.0,133.0 C416.5,118.7 436.5,105.8 446.0,104.0 C455.5,102.2 467.8,111.7 471.0,122.0 C474.2,132.3 460.5,158.2 465.0,166.0 C469.5,173.8 481.8,170.0 498.0,169.0 C514.2,168.0 541.3,164.3 562.0,160.0 C582.7,155.7 605.2,150.7 622.0,143.0 C638.8,135.3 650.0,121.3 663.0,114.0 C676.0,106.7 687.2,101.3 700.0,99.0 C712.8,96.7 729.2,97.5 740.0,100.0 C750.8,102.5 754.0,103.5 765.0,114.0 C776.0,124.5 789.0,148.0 806.0,163.0 C823.0,178.0 846.7,192.0 867.0,204.0 C887.3,216.0 911.0,224.0 928.0,235.0 C945.0,246.0 954.7,259.7 969.0,270.0 C983.3,280.3 1001.7,288.3 1014.0,297.0 C1026.3,305.7 1032.8,322.8 1043.0,322.0 C1053.2,321.2 1064.7,296.3 1075.0,292.0 C1085.3,287.7 1098.8,289.7 1105.0,296.0 C1111.2,302.3 1113.5,320.7 1112.0,330.0 C1110.5,339.3 1100.8,345.0 1096.0,352.0 C1091.2,359.0 1078.7,356.8 1083.0,372.0 C1087.3,387.2 1113.5,422.7 1122.0,443.0 C1130.5,463.3 1130.0,472.7 1134.0,494.0 C1138.0,515.3 1141.0,545.3 1146.0,571.0 C1151.0,596.7 1160.0,622.2 1164.0,648.0 C1168.0,673.8 1167.8,703.5 1170.0,726.0 C1172.2,748.5 1172.8,769.2 1177.0,783.0 C1181.2,796.8 1193.7,799.3 1195.0,809.0 C1196.3,818.7 1191.0,829.2 1185.0,841.0 C1179.0,852.8 1165.8,867.7 1159.0,880.0 C1152.2,892.3 1147.8,903.3 1144.0,915.0 C1140.2,926.7 1138.7,938.8 1136.0,950.0 C1133.3,961.2 1132.7,976.2 1128.0,982.0 C1123.3,987.8 1114.3,985.7 1108.0,985.0 C1101.7,984.3 1097.8,972.0 1090.0,978.0 C1082.2,984.0 1071.3,1006.0 1061.0,1021.0 C1050.7,1036.0 1039.2,1054.7 1028.0,1068.0 C1016.8,1081.3 1005.2,1091.0 994.0,1101.0 C982.8,1111.0 972.2,1120.2 961.0,1128.0 C949.8,1135.8 938.3,1141.3 927.0,1148.0 C915.7,1154.7 904.2,1161.7 893.0,1168.0 C881.8,1174.3 870.5,1179.2 860.0,1186.0 C849.5,1192.8 840.0,1200.7 830.0,1209.0 C820.0,1217.3 796.7,1228.8 800.0,1236.0 C803.3,1243.2 838.0,1247.3 850.0,1252.0 C862.0,1256.7 880.0,1260.0 872.0,1264.0 C864.0,1268.0 827.7,1272.2 802.0,1276.0 C776.3,1279.8 746.0,1286.8 718.0,1287.0 C690.0,1287.2 660.3,1281.8 634.0,1277.0 C607.7,1272.2 583.5,1264.8 560.0,1258.0 C536.5,1251.2 514.5,1239.0 493.0,1236.0 C471.5,1233.0 447.0,1239.7 431.0,1240.0 C415.0,1240.3 404.5,1241.7 397.0,1238.0 C389.5,1234.3 394.7,1232.7 386.0,1218.0 C377.3,1203.3 360.0,1159.7 345.0,1150.0 C330.0,1140.3 306.8,1166.7 296.0,1160.0 C285.2,1153.3 289.7,1124.3 280.0,1110.0 C270.3,1095.7 249.5,1087.0 238.0,1074.0 C226.5,1061.0 222.3,1046.5 211.0,1032.0 C199.7,1017.5 181.3,1002.2 170.0,987.0 C158.7,971.8 150.5,956.0 143.0,941.0 C135.5,926.0 136.3,905.7 125.0,897.0 C113.7,888.3 88.3,891.5 75.0,889.0 C61.7,886.5 49.3,886.8 45.0,882.0 C40.7,877.2 39.0,866.2 49.0,860.0 C59.0,853.8 94.8,853.0 105.0,845.0 C115.2,837.0 111.8,828.3 110.0,812.0 C108.2,795.7 97.7,767.3 94.0,747.0 C90.3,726.7 86.7,710.3 88.0,690.0 C89.3,669.7 100.3,646.7 102.0,625.0 C103.7,603.3 99.7,577.7 98.0,560.0 C96.3,542.3 90.7,529.3 92.0,519.0 C93.3,508.7 100.5,504.5 106.0,498.0 C111.5,491.5 128.0,486.0 125.0,480.0 C122.0,474.0 95.2,468.5 88.0,462.0 C80.8,455.5 79.0,447.2 82.0,441.0 C85.0,434.8 95.2,429.5 106.0,425.0 C116.8,420.5 136.3,421.5 147.0,414.0 C157.7,406.5 162.8,394.0 170.0,380.0 C177.2,366.0 186.3,349.7 190.0,330.0 Z" fill="none" stroke="#d4e5f0" stroke-width="18.5" stroke-linejoin="round"/><path d="M252.0,760.0 C250.0,726.7 251.3,683.3 256.0,650.0 C260.7,616.7 270.3,585.0 280.0,560.0 C289.7,535.0 300.7,516.3 314.0,500.0 C327.3,483.7 344.7,473.0 360.0,462.0 C375.3,451.0 386.0,444.3 406.0,434.0 C426.0,423.7 454.3,409.3 480.0,400.0 C505.7,390.7 533.3,383.0 560.0,378.0 C586.7,373.0 613.3,369.7 640.0,370.0 C666.7,370.3 694.2,372.7 720.0,380.0 C745.8,387.3 772.2,403.8 795.0,414.0 C817.8,424.2 837.5,430.3 857.0,441.0 C876.5,451.7 892.7,464.8 912.0,478.0 C931.3,491.2 957.5,504.8 973.0,520.0 C988.5,535.2 995.5,552.7 1005.0,569.0 C1014.5,585.3 1022.8,599.0 1030.0,618.0 C1037.2,637.0 1043.0,661.2 1048.0,683.0 C1053.0,704.8 1057.2,728.5 1060.0,749.0 C1062.8,769.5 1064.2,788.3 1064.5,806.0 C1064.8,823.7 1063.8,838.7 1062.0,855.0 C1060.2,871.3 1057.7,887.7 1054.0,904.0 C1050.3,920.3 1046.0,936.7 1040.0,953.0 C1034.0,969.3 1026.5,986.5 1018.0,1002.0 C1009.5,1017.5 1000.3,1033.8 989.0,1046.0 C977.7,1058.2 971.3,1065.0 950.0,1075.0 C928.7,1085.0 890.7,1097.3 861.0,1106.0 C831.3,1114.7 801.7,1122.2 772.0,1127.0 C742.3,1131.8 712.7,1134.5 683.0,1135.0 C653.3,1135.5 627.3,1134.8 594.0,1130.0 C560.7,1125.2 515.7,1117.3 483.0,1106.0 C450.3,1094.7 421.0,1078.8 398.0,1062.0 C375.0,1045.2 361.3,1027.0 345.0,1005.0 C328.7,983.0 312.8,955.8 300.0,930.0 C287.2,904.2 276.0,878.3 268.0,850.0 C260.0,821.7 254.0,793.3 252.0,760.0 Z" fill="#f1f5f9" stroke="#e1ecf4" stroke-width="20"/></g>
<g><rect x="164.7" y="266.7" width="983.3" height="38.3" fill="#edf2f8" opacity="0.75"/><path d="M167.7,267.7 L165.0,284.4 M167.7,267.7 L170.4,284.4 M167.7,304.0 L165.0,287.4 M167.7,304.0 L170.4,287.4 M177.0,267.7 L174.3,284.4 M177.0,267.7 L179.7,284.4 M177.0,304.0 L174.3,287.4 M177.0,304.0 L179.7,287.4 M186.3,267.7 L183.6,284.4 M186.3,267.7 L189.0,284.4 M186.3,304.0 L183.6,287.4 M186.3,304.0 L189.0,287.4 M195.6,267.7 L192.9,284.4 M195.6,267.7 L198.3,284.4 M195.6,304.0 L192.9,287.4 M195.6,304.0 L198.3,287.4 M204.9,267.7 L202.2,284.4 M204.9,267.7 L207.6,284.4 M204.9,304.0 L202.2,287.4 M204.9,304.0 L207.6,287.4 M214.2,267.7 L211.5,284.4 M214.2,267.7 L216.9,284.4 M214.2,304.0 L211.5,287.4 M214.2,304.0 L216.9,287.4 M223.5,267.7 L220.8,284.4 M223.5,267.7 L226.2,284.4 M223.5,304.0 L220.8,287.4 M223.5,304.0 L226.2,287.4 M232.8,267.7 L230.1,284.4 M232.8,267.7 L235.5,284.4 M232.8,304.0 L230.1,287.4 M232.8,304.0 L235.5,287.4 M242.1,267.7 L239.4,284.4 M242.1,267.7 L244.8,284.4 M242.1,304.0 L239.4,287.4 M242.1,304.0 L244.8,287.4 M251.4,267.7 L248.7,284.4 M251.4,267.7 L254.1,284.4 M251.4,304.0 L248.7,287.4 M251.4,304.0 L254.1,287.4 M260.7,267.7 L258.0,284.4 M260.7,267.7 L263.4,284.4 M260.7,304.0 L258.0,287.4 M260.7,304.0 L263.4,287.4 M270.0,267.7 L267.3,284.4 M270.0,267.7 L272.7,284.4 M270.0,304.0 L267.3,287.4 M270.0,304.0 L272.7,287.4 M279.3,267.7 L276.6,284.4 M279.3,267.7 L282.0,284.4 M279.3,304.0 L276.6,287.4 M279.3,304.0 L282.0,287.4 M288.6,267.7 L285.9,284.4 M288.6,267.7 L291.3,284.4 M288.6,304.0 L285.9,287.4 M288.6,304.0 L291.3,287.4 M297.9,267.7 L295.2,284.4 M297.9,267.7 L300.6,284.4 M297.9,304.0 L295.2,287.4 M297.9,304.0 L300.6,287.4 M307.2,267.7 L304.5,284.4 M307.2,267.7 L309.9,284.4 M307.2,304.0 L304.5,287.4 M307.2,304.0 L309.9,287.4 M316.5,267.7 L313.8,284.4 M316.5,267.7 L319.2,284.4 M316.5,304.0 L313.8,287.4 M316.5,304.0 L319.2,287.4 M325.8,267.7 L323.1,284.4 M325.8,267.7 L328.5,284.4 M325.8,304.0 L323.1,287.4 M325.8,304.0 L328.5,287.4 M335.1,267.7 L332.4,284.4 M335.1,267.7 L337.8,284.4 M335.1,304.0 L332.4,287.4 M335.1,304.0 L337.8,287.4 M344.4,267.7 L341.7,284.4 M344.4,267.7 L347.1,284.4 M344.4,304.0 L341.7,287.4 M344.4,304.0 L347.1,287.4 M353.7,267.7 L351.0,284.4 M353.7,267.7 L356.4,284.4 M353.7,304.0 L351.0,287.4 M353.7,304.0 L356.4,287.4 M363.0,267.7 L360.3,284.4 M363.0,267.7 L365.7,284.4 M363.0,304.0 L360.3,287.4 M363.0,304.0 L365.7,287.4 M372.3,267.7 L369.6,284.4 M372.3,267.7 L375.0,284.4 M372.3,304.0 L369.6,287.4 M372.3,304.0 L375.0,287.4 M381.6,267.7 L378.9,284.4 M381.6,267.7 L384.3,284.4 M381.6,304.0 L378.9,287.4 M381.6,304.0 L384.3,287.4 M390.9,267.7 L388.2,284.4 M390.9,267.7 L393.6,284.4 M390.9,304.0 L388.2,287.4 M390.9,304.0 L393.6,287.4 M400.2,267.7 L397.5,284.4 M400.2,267.7 L402.9,284.4 M400.2,304.0 L397.5,287.4 M400.2,304.0 L402.9,287.4 M409.5,267.7 L406.8,284.4 M409.5,267.7 L412.2,284.4 M409.5,304.0 L406.8,287.4 M409.5,304.0 L412.2,287.4 M418.8,267.7 L416.1,284.4 M418.8,267.7 L421.5,284.4 M418.8,304.0 L416.1,287.4 M418.8,304.0 L421.5,287.4 M428.1,267.7 L425.4,284.4 M428.1,267.7 L430.8,284.4 M428.1,304.0 L425.4,287.4 M428.1,304.0 L430.8,287.4 M437.4,267.7 L434.7,284.4 M437.4,267.7 L440.1,284.4 M437.4,304.0 L434.7,287.4 M437.4,304.0 L440.1,287.4 M446.7,267.7 L444.0,284.4 M446.7,267.7 L449.4,284.4 M446.7,304.0 L444.0,287.4 M446.7,304.0 L449.4,287.4 M456.0,267.7 L453.3,284.4 M456.0,267.7 L458.7,284.4 M456.0,304.0 L453.3,287.4 M456.0,304.0 L458.7,287.4 M465.3,267.7 L462.6,284.4 M465.3,267.7 L468.0,284.4 M465.3,304.0 L462.6,287.4 M465.3,304.0 L468.0,287.4 M474.6,267.7 L471.9,284.4 M474.6,267.7 L477.3,284.4 M474.6,304.0 L471.9,287.4 M474.6,304.0 L477.3,287.4 M483.9,267.7 L481.2,284.4 M483.9,267.7 L486.6,284.4 M483.9,304.0 L481.2,287.4 M483.9,304.0 L486.6,287.4 M493.2,267.7 L490.5,284.4 M493.2,267.7 L495.9,284.4 M493.2,304.0 L490.5,287.4 M493.2,304.0 L495.9,287.4 M502.5,267.7 L499.8,284.4 M502.5,267.7 L505.2,284.4 M502.5,304.0 L499.8,287.4 M502.5,304.0 L505.2,287.4 M511.8,267.7 L509.1,284.4 M511.8,267.7 L514.5,284.4 M511.8,304.0 L509.1,287.4 M511.8,304.0 L514.5,287.4 M521.1,267.7 L518.4,284.4 M521.1,267.7 L523.8,284.4 M521.1,304.0 L518.4,287.4 M521.1,304.0 L523.8,287.4 M530.4,267.7 L527.7,284.4 M530.4,267.7 L533.1,284.4 M530.4,304.0 L527.7,287.4 M530.4,304.0 L533.1,287.4 M539.7,267.7 L537.0,284.4 M539.7,267.7 L542.4,284.4 M539.7,304.0 L537.0,287.4 M539.7,304.0 L542.4,287.4 M549.0,267.7 L546.3,284.4 M549.0,267.7 L551.7,284.4 M549.0,304.0 L546.3,287.4 M549.0,304.0 L551.7,287.4 M558.3,267.7 L555.6,284.4 M558.3,267.7 L561.0,284.4 M558.3,304.0 L555.6,287.4 M558.3,304.0 L561.0,287.4 M567.6,267.7 L564.9,284.4 M567.6,267.7 L570.3,284.4 M567.6,304.0 L564.9,287.4 M567.6,304.0 L570.3,287.4 M576.9,267.7 L574.2,284.4 M576.9,267.7 L579.6,284.4 M576.9,304.0 L574.2,287.4 M576.9,304.0 L579.6,287.4 M586.2,267.7 L583.5,284.4 M586.2,267.7 L588.9,284.4 M586.2,304.0 L583.5,287.4 M586.2,304.0 L588.9,287.4 M595.5,267.7 L592.8,284.4 M595.5,267.7 L598.2,284.4 M595.5,304.0 L592.8,287.4 M595.5,304.0 L598.2,287.4 M604.8,267.7 L602.1,284.4 M604.8,267.7 L607.5,284.4 M604.8,304.0 L602.1,287.4 M604.8,304.0 L607.5,287.4 M614.1,267.7 L611.4,284.4 M614.1,267.7 L616.8,284.4 M614.1,304.0 L611.4,287.4 M614.1,304.0 L616.8,287.4 M623.4,267.7 L620.7,284.4 M623.4,267.7 L626.1,284.4 M623.4,304.0 L620.7,287.4 M623.4,304.0 L626.1,287.4 M632.7,267.7 L630.0,284.4 M632.7,267.7 L635.4,284.4 M632.7,304.0 L630.0,287.4 M632.7,304.0 L635.4,287.4 M642.0,267.7 L639.3,284.4 M642.0,267.7 L644.7,284.4 M642.0,304.0 L639.3,287.4 M642.0,304.0 L644.7,287.4 M651.3,267.7 L648.6,284.4 M651.3,267.7 L654.0,284.4 M651.3,304.0 L648.6,287.4 M651.3,304.0 L654.0,287.4 M660.6,267.7 L657.9,284.4 M660.6,267.7 L663.3,284.4 M660.6,304.0 L657.9,287.4 M660.6,304.0 L663.3,287.4 M669.9,267.7 L667.2,284.4 M669.9,267.7 L672.6,284.4 M669.9,304.0 L667.2,287.4 M669.9,304.0 L672.6,287.4 M679.2,267.7 L676.5,284.4 M679.2,267.7 L681.9,284.4 M679.2,304.0 L676.5,287.4 M679.2,304.0 L681.9,287.4 M688.5,267.7 L685.8,284.4 M688.5,267.7 L691.2,284.4 M688.5,304.0 L685.8,287.4 M688.5,304.0 L691.2,287.4 M697.8,267.7 L695.1,284.4 M697.8,267.7 L700.5,284.4 M697.8,304.0 L695.1,287.4 M697.8,304.0 L700.5,287.4 M707.1,267.7 L704.4,284.4 M707.1,267.7 L709.8,284.4 M707.1,304.0 L704.4,287.4 M707.1,304.0 L709.8,287.4 M716.4,267.7 L713.7,284.4 M716.4,267.7 L719.1,284.4 M716.4,304.0 L713.7,287.4 M716.4,304.0 L719.1,287.4 M725.7,267.7 L723.0,284.4 M725.7,267.7 L728.4,284.4 M725.7,304.0 L723.0,287.4 M725.7,304.0 L728.4,287.4 M735.0,267.7 L732.3,284.4 M735.0,267.7 L737.7,284.4 M735.0,304.0 L732.3,287.4 M735.0,304.0 L737.7,287.4 M744.3,267.7 L741.6,284.4 M744.3,267.7 L747.0,284.4 M744.3,304.0 L741.6,287.4 M744.3,304.0 L747.0,287.4 M753.6,267.7 L750.9,284.4 M753.6,267.7 L756.3,284.4 M753.6,304.0 L750.9,287.4 M753.6,304.0 L756.3,287.4 M762.9,267.7 L760.2,284.4 M762.9,267.7 L765.6,284.4 M762.9,304.0 L760.2,287.4 M762.9,304.0 L765.6,287.4 M772.2,267.7 L769.5,284.4 M772.2,267.7 L774.9,284.4 M772.2,304.0 L769.5,287.4 M772.2,304.0 L774.9,287.4 M781.5,267.7 L778.8,284.4 M781.5,267.7 L784.2,284.4 M781.5,304.0 L778.8,287.4 M781.5,304.0 L784.2,287.4 M790.8,267.7 L788.1,284.4 M790.8,267.7 L793.5,284.4 M790.8,304.0 L788.1,287.4 M790.8,304.0 L793.5,287.4 M800.1,267.7 L797.4,284.4 M800.1,267.7 L802.8,284.4 M800.1,304.0 L797.4,287.4 M800.1,304.0 L802.8,287.4 M809.4,267.7 L806.7,284.4 M809.4,267.7 L812.1,284.4 M809.4,304.0 L806.7,287.4 M809.4,304.0 L812.1,287.4 M818.7,267.7 L816.0,284.4 M818.7,267.7 L821.4,284.4 M818.7,304.0 L816.0,287.4 M818.7,304.0 L821.4,287.4 M828.0,267.7 L825.3,284.4 M828.0,267.7 L830.7,284.4 M828.0,304.0 L825.3,287.4 M828.0,304.0 L830.7,287.4 M837.3,267.7 L834.6,284.4 M837.3,267.7 L840.0,284.4 M837.3,304.0 L834.6,287.4 M837.3,304.0 L840.0,287.4 M846.6,267.7 L843.9,284.4 M846.6,267.7 L849.3,284.4 M846.6,304.0 L843.9,287.4 M846.6,304.0 L849.3,287.4 M855.9,267.7 L853.2,284.4 M855.9,267.7 L858.6,284.4 M855.9,304.0 L853.2,287.4 M855.9,304.0 L858.6,287.4 M865.2,267.7 L862.5,284.4 M865.2,267.7 L867.9,284.4 M865.2,304.0 L862.5,287.4 M865.2,304.0 L867.9,287.4 M874.5,267.7 L871.8,284.4 M874.5,267.7 L877.2,284.4 M874.5,304.0 L871.8,287.4 M874.5,304.0 L877.2,287.4 M883.8,267.7 L881.1,284.4 M883.8,267.7 L886.5,284.4 M883.8,304.0 L881.1,287.4 M883.8,304.0 L886.5,287.4 M893.1,267.7 L890.4,284.4 M893.1,267.7 L895.8,284.4 M893.1,304.0 L890.4,287.4 M893.1,304.0 L895.8,287.4 M902.4,267.7 L899.7,284.4 M902.4,267.7 L905.1,284.4 M902.4,304.0 L899.7,287.4 M902.4,304.0 L905.1,287.4 M911.7,267.7 L909.0,284.4 M911.7,267.7 L914.4,284.4 M911.7,304.0 L909.0,287.4 M911.7,304.0 L914.4,287.4 M921.0,267.7 L918.3,284.4 M921.0,267.7 L923.7,284.4 M921.0,304.0 L918.3,287.4 M921.0,304.0 L923.7,287.4 M930.3,267.7 L927.6,284.4 M930.3,267.7 L933.0,284.4 M930.3,304.0 L927.6,287.4 M930.3,304.0 L933.0,287.4 M939.6,267.7 L936.9,284.4 M939.6,267.7 L942.3,284.4 M939.6,304.0 L936.9,287.4 M939.6,304.0 L942.3,287.4 M948.9,267.7 L946.2,284.4 M948.9,267.7 L951.6,284.4 M948.9,304.0 L946.2,287.4 M948.9,304.0 L951.6,287.4 M958.2,267.7 L955.5,284.4 M958.2,267.7 L960.9,284.4 M958.2,304.0 L955.5,287.4 M958.2,304.0 L960.9,287.4 M967.5,267.7 L964.8,284.4 M967.5,267.7 L970.2,284.4 M967.5,304.0 L964.8,287.4 M967.5,304.0 L970.2,287.4 M976.8,267.7 L974.1,284.4 M976.8,267.7 L979.5,284.4 M976.8,304.0 L974.1,287.4 M976.8,304.0 L979.5,287.4 M986.1,267.7 L983.4,284.4 M986.1,267.7 L988.8,284.4 M986.1,304.0 L983.4,287.4 M986.1,304.0 L988.8,287.4 M995.4,267.7 L992.7,284.4 M995.4,267.7 L998.1,284.4 M995.4,304.0 L992.7,287.4 M995.4,304.0 L998.1,287.4 M1004.7,267.7 L1002.0,284.4 M1004.7,267.7 L1007.4,284.4 M1004.7,304.0 L1002.0,287.4 M1004.7,304.0 L1007.4,287.4 M1014.0,267.7 L1011.3,284.4 M1014.0,267.7 L1016.7,284.4 M1014.0,304.0 L1011.3,287.4 M1014.0,304.0 L1016.7,287.4 M1023.3,267.7 L1020.6,284.4 M1023.3,267.7 L1026.0,284.4 M1023.3,304.0 L1020.6,287.4 M1023.3,304.0 L1026.0,287.4 M1032.6,267.7 L1029.9,284.4 M1032.6,267.7 L1035.3,284.4 M1032.6,304.0 L1029.9,287.4 M1032.6,304.0 L1035.3,287.4 M1041.9,267.7 L1039.2,284.4 M1041.9,267.7 L1044.6,284.4 M1041.9,304.0 L1039.2,287.4 M1041.9,304.0 L1044.6,287.4 M1051.2,267.7 L1048.5,284.4 M1051.2,267.7 L1053.9,284.4 M1051.2,304.0 L1048.5,287.4 M1051.2,304.0 L1053.9,287.4 M1060.5,267.7 L1057.8,284.4 M1060.5,267.7 L1063.2,284.4 M1060.5,304.0 L1057.8,287.4 M1060.5,304.0 L1063.2,287.4 M1069.8,267.7 L1067.1,284.4 M1069.8,267.7 L1072.5,284.4 M1069.8,304.0 L1067.1,287.4 M1069.8,304.0 L1072.5,287.4 M1079.1,267.7 L1076.4,284.4 M1079.1,267.7 L1081.8,284.4 M1079.1,304.0 L1076.4,287.4 M1079.1,304.0 L1081.8,287.4 M1088.4,267.7 L1085.7,284.4 M1088.4,267.7 L1091.1,284.4 M1088.4,304.0 L1085.7,287.4 M1088.4,304.0 L1091.1,287.4 M1097.7,267.7 L1095.0,284.4 M1097.7,267.7 L1100.4,284.4 M1097.7,304.0 L1095.0,287.4 M1097.7,304.0 L1100.4,287.4 M1107.0,267.7 L1104.3,284.4 M1107.0,267.7 L1109.7,284.4 M1107.0,304.0 L1104.3,287.4 M1107.0,304.0 L1109.7,287.4 M1116.3,267.7 L1113.6,284.4 M1116.3,267.7 L1119.0,284.4 M1116.3,304.0 L1113.6,287.4 M1116.3,304.0 L1119.0,287.4 M1125.6,267.7 L1122.9,284.4 M1125.6,267.7 L1128.3,284.4 M1125.6,304.0 L1122.9,287.4 M1125.6,304.0 L1128.3,287.4 M1134.9,267.7 L1132.2,284.4 M1134.9,267.7 L1137.6,284.4 M1134.9,304.0 L1132.2,287.4 M1134.9,304.0 L1137.6,287.4 M1144.2,267.7 L1141.5,284.4 M1144.2,267.7 L1146.9,284.4 M1144.2,304.0 L1141.5,287.4 M1144.2,304.0 L1146.9,287.4" stroke="#d0ddec" stroke-width="2.1" fill="none"/><g fill="#8c9db8"><circle cx="167.7" cy="264.7" r="3.7"/><circle cx="167.7" cy="307.0" r="3.7"/><circle cx="177.0" cy="264.7" r="3.7"/><circle cx="177.0" cy="307.0" r="3.7"/><circle cx="186.3" cy="264.7" r="3.7"/><circle cx="186.3" cy="307.0" r="3.7"/><circle cx="195.6" cy="264.7" r="3.7"/><circle cx="195.6" cy="307.0" r="3.7"/><circle cx="204.9" cy="264.7" r="3.7"/><circle cx="204.9" cy="307.0" r="3.7"/><circle cx="214.2" cy="264.7" r="3.7"/><circle cx="214.2" cy="307.0" r="3.7"/><circle cx="223.5" cy="264.7" r="3.7"/><circle cx="223.5" cy="307.0" r="3.7"/><circle cx="232.8" cy="264.7" r="3.7"/><circle cx="232.8" cy="307.0" r="3.7"/><circle cx="242.1" cy="264.7" r="3.7"/><circle cx="242.1" cy="307.0" r="3.7"/><circle cx="251.4" cy="264.7" r="3.7"/><circle cx="251.4" cy="307.0" r="3.7"/><circle cx="260.7" cy="264.7" r="3.7"/><circle cx="260.7" cy="307.0" r="3.7"/><circle cx="270.0" cy="264.7" r="3.7"/><circle cx="270.0" cy="307.0" r="3.7"/><circle cx="279.3" cy="264.7" r="3.7"/><circle cx="279.3" cy="307.0" r="3.7"/><circle cx="288.6" cy="264.7" r="3.7"/><circle cx="288.6" cy="307.0" r="3.7"/><circle cx="297.9" cy="264.7" r="3.7"/><circle cx="297.9" cy="307.0" r="3.7"/><circle cx="307.2" cy="264.7" r="3.7"/><circle cx="307.2" cy="307.0" r="3.7"/><circle cx="316.5" cy="264.7" r="3.7"/><circle cx="316.5" cy="307.0" r="3.7"/><circle cx="325.8" cy="264.7" r="3.7"/><circle cx="325.8" cy="307.0" r="3.7"/><circle cx="335.1" cy="264.7" r="3.7"/><circle cx="335.1" cy="307.0" r="3.7"/><circle cx="344.4" cy="264.7" r="3.7"/><circle cx="344.4" cy="307.0" r="3.7"/><circle cx="353.7" cy="264.7" r="3.7"/><circle cx="353.7" cy="307.0" r="3.7"/><circle cx="363.0" cy="264.7" r="3.7"/><circle cx="363.0" cy="307.0" r="3.7"/><circle cx="372.3" cy="264.7" r="3.7"/><circle cx="372.3" cy="307.0" r="3.7"/><circle cx="381.6" cy="264.7" r="3.7"/><circle cx="381.6" cy="307.0" r="3.7"/><circle cx="390.9" cy="264.7" r="3.7"/><circle cx="390.9" cy="307.0" r="3.7"/><circle cx="400.2" cy="264.7" r="3.7"/><circle cx="400.2" cy="307.0" r="3.7"/><circle cx="409.5" cy="264.7" r="3.7"/><circle cx="409.5" cy="307.0" r="3.7"/><circle cx="418.8" cy="264.7" r="3.7"/><circle cx="418.8" cy="307.0" r="3.7"/><circle cx="428.1" cy="264.7" r="3.7"/><circle cx="428.1" cy="307.0" r="3.7"/><circle cx="437.4" cy="264.7" r="3.7"/><circle cx="437.4" cy="307.0" r="3.7"/><circle cx="446.7" cy="264.7" r="3.7"/><circle cx="446.7" cy="307.0" r="3.7"/><circle cx="456.0" cy="264.7" r="3.7"/><circle cx="456.0" cy="307.0" r="3.7"/><circle cx="465.3" cy="264.7" r="3.7"/><circle cx="465.3" cy="307.0" r="3.7"/><circle cx="474.6" cy="264.7" r="3.7"/><circle cx="474.6" cy="307.0" r="3.7"/><circle cx="483.9" cy="264.7" r="3.7"/><circle cx="483.9" cy="307.0" r="3.7"/><circle cx="493.2" cy="264.7" r="3.7"/><circle cx="493.2" cy="307.0" r="3.7"/><circle cx="502.5" cy="264.7" r="3.7"/><circle cx="502.5" cy="307.0" r="3.7"/><circle cx="511.8" cy="264.7" r="3.7"/><circle cx="511.8" cy="307.0" r="3.7"/><circle cx="521.1" cy="264.7" r="3.7"/><circle cx="521.1" cy="307.0" r="3.7"/><circle cx="530.4" cy="264.7" r="3.7"/><circle cx="530.4" cy="307.0" r="3.7"/><circle cx="539.7" cy="264.7" r="3.7"/><circle cx="539.7" cy="307.0" r="3.7"/><circle cx="549.0" cy="264.7" r="3.7"/><circle cx="549.0" cy="307.0" r="3.7"/><circle cx="558.3" cy="264.7" r="3.7"/><circle cx="558.3" cy="307.0" r="3.7"/><circle cx="567.6" cy="264.7" r="3.7"/><circle cx="567.6" cy="307.0" r="3.7"/><circle cx="576.9" cy="264.7" r="3.7"/><circle cx="576.9" cy="307.0" r="3.7"/><circle cx="586.2" cy="264.7" r="3.7"/><circle cx="586.2" cy="307.0" r="3.7"/><circle cx="595.5" cy="264.7" r="3.7"/><circle cx="595.5" cy="307.0" r="3.7"/><circle cx="604.8" cy="264.7" r="3.7"/><circle cx="604.8" cy="307.0" r="3.7"/><circle cx="614.1" cy="264.7" r="3.7"/><circle cx="614.1" cy="307.0" r="3.7"/><circle cx="623.4" cy="264.7" r="3.7"/><circle cx="623.4" cy="307.0" r="3.7"/><circle cx="632.7" cy="264.7" r="3.7"/><circle cx="632.7" cy="307.0" r="3.7"/><circle cx="642.0" cy="264.7" r="3.7"/><circle cx="642.0" cy="307.0" r="3.7"/><circle cx="651.3" cy="264.7" r="3.7"/><circle cx="651.3" cy="307.0" r="3.7"/><circle cx="660.6" cy="264.7" r="3.7"/><circle cx="660.6" cy="307.0" r="3.7"/><circle cx="669.9" cy="264.7" r="3.7"/><circle cx="669.9" cy="307.0" r="3.7"/><circle cx="679.2" cy="264.7" r="3.7"/><circle cx="679.2" cy="307.0" r="3.7"/><circle cx="688.5" cy="264.7" r="3.7"/><circle cx="688.5" cy="307.0" r="3.7"/><circle cx="697.8" cy="264.7" r="3.7"/><circle cx="697.8" cy="307.0" r="3.7"/><circle cx="707.1" cy="264.7" r="3.7"/><circle cx="707.1" cy="307.0" r="3.7"/><circle cx="716.4" cy="264.7" r="3.7"/><circle cx="716.4" cy="307.0" r="3.7"/><circle cx="725.7" cy="264.7" r="3.7"/><circle cx="725.7" cy="307.0" r="3.7"/><circle cx="735.0" cy="264.7" r="3.7"/><circle cx="735.0" cy="307.0" r="3.7"/><circle cx="744.3" cy="264.7" r="3.7"/><circle cx="744.3" cy="307.0" r="3.7"/><circle cx="753.6" cy="264.7" r="3.7"/><circle cx="753.6" cy="307.0" r="3.7"/><circle cx="762.9" cy="264.7" r="3.7"/><circle cx="762.9" cy="307.0" r="3.7"/><circle cx="772.2" cy="264.7" r="3.7"/><circle cx="772.2" cy="307.0" r="3.7"/><circle cx="781.5" cy="264.7" r="3.7"/><circle cx="781.5" cy="307.0" r="3.7"/><circle cx="790.8" cy="264.7" r="3.7"/><circle cx="790.8" cy="307.0" r="3.7"/><circle cx="800.1" cy="264.7" r="3.7"/><circle cx="800.1" cy="307.0" r="3.7"/><circle cx="809.4" cy="264.7" r="3.7"/><circle cx="809.4" cy="307.0" r="3.7"/><circle cx="818.7" cy="264.7" r="3.7"/><circle cx="818.7" cy="307.0" r="3.7"/><circle cx="828.0" cy="264.7" r="3.7"/><circle cx="828.0" cy="307.0" r="3.7"/><circle cx="837.3" cy="264.7" r="3.7"/><circle cx="837.3" cy="307.0" r="3.7"/><circle cx="846.6" cy="264.7" r="3.7"/><circle cx="846.6" cy="307.0" r="3.7"/><circle cx="855.9" cy="264.7" r="3.7"/><circle cx="855.9" cy="307.0" r="3.7"/><circle cx="865.2" cy="264.7" r="3.7"/><circle cx="865.2" cy="307.0" r="3.7"/><circle cx="874.5" cy="264.7" r="3.7"/><circle cx="874.5" cy="307.0" r="3.7"/><circle cx="883.8" cy="264.7" r="3.7"/><circle cx="883.8" cy="307.0" r="3.7"/><circle cx="893.1" cy="264.7" r="3.7"/><circle cx="893.1" cy="307.0" r="3.7"/><circle cx="902.4" cy="264.7" r="3.7"/><circle cx="902.4" cy="307.0" r="3.7"/><circle cx="911.7" cy="264.7" r="3.7"/><circle cx="911.7" cy="307.0" r="3.7"/><circle cx="921.0" cy="264.7" r="3.7"/><circle cx="921.0" cy="307.0" r="3.7"/><circle cx="930.3" cy="264.7" r="3.7"/><circle cx="930.3" cy="307.0" r="3.7"/><circle cx="939.6" cy="264.7" r="3.7"/><circle cx="939.6" cy="307.0" r="3.7"/><circle cx="948.9" cy="264.7" r="3.7"/><circle cx="948.9" cy="307.0" r="3.7"/><circle cx="958.2" cy="264.7" r="3.7"/><circle cx="958.2" cy="307.0" r="3.7"/><circle cx="967.5" cy="264.7" r="3.7"/><circle cx="967.5" cy="307.0" r="3.7"/><circle cx="976.8" cy="264.7" r="3.7"/><circle cx="976.8" cy="307.0" r="3.7"/><circle cx="986.1" cy="264.7" r="3.7"/><circle cx="986.1" cy="307.0" r="3.7"/><circle cx="995.4" cy="264.7" r="3.7"/><circle cx="995.4" cy="307.0" r="3.7"/><circle cx="1004.7" cy="264.7" r="3.7"/><circle cx="1004.7" cy="307.0" r="3.7"/><circle cx="1014.0" cy="264.7" r="3.7"/><circle cx="1014.0" cy="307.0" r="3.7"/><circle cx="1023.3" cy="264.7" r="3.7"/><circle cx="1023.3" cy="307.0" r="3.7"/><circle cx="1032.6" cy="264.7" r="3.7"/><circle cx="1032.6" cy="307.0" r="3.7"/><circle cx="1041.9" cy="264.7" r="3.7"/><circle cx="1041.9" cy="307.0" r="3.7"/><circle cx="1051.2" cy="264.7" r="3.7"/><circle cx="1051.2" cy="307.0" r="3.7"/><circle cx="1060.5" cy="264.7" r="3.7"/><circle cx="1060.5" cy="307.0" r="3.7"/><circle cx="1069.8" cy="307.0" r="3.7"/><circle cx="1079.1" cy="307.0" r="3.7"/><circle cx="1088.4" cy="307.0" r="3.7"/><circle cx="1097.7" cy="307.0" r="3.7"/><circle cx="1107.0" cy="307.0" r="3.7"/><circle cx="1116.3" cy="307.0" r="3.7"/><circle cx="1125.6" cy="307.0" r="3.7"/><circle cx="1134.9" cy="307.0" r="3.7"/><circle cx="1144.2" cy="307.0" r="3.7"/></g></g>
<g fill="#8c9db8"><circle cx="1066.0" cy="264.2" r="3.7"/><circle cx="1070.4" cy="264.2" r="3.7"/><circle cx="1074.8" cy="264.2" r="3.7"/><circle cx="1079.2" cy="264.2" r="3.7"/><circle cx="1083.6" cy="264.2" r="3.7"/><circle cx="1088.0" cy="264.2" r="3.7"/><circle cx="1092.4" cy="264.2" r="3.7"/><circle cx="1096.8" cy="264.2" r="3.7"/><circle cx="1101.2" cy="264.2" r="3.7"/><circle cx="1105.6" cy="264.2" r="3.7"/><circle cx="1110.0" cy="264.2" r="3.7"/></g>
<g><rect x="1431.5" y="249.0" width="984.5" height="38.5" fill="#edf2f8" opacity="0.75"/><path d="M1434.5,250.0 L1431.8,266.8 M1434.5,250.0 L1437.2,266.8 M1434.5,286.5 L1431.8,269.8 M1434.5,286.5 L1437.2,269.8 M1443.8,250.0 L1441.1,266.8 M1443.8,250.0 L1446.5,266.8 M1443.8,286.5 L1441.1,269.8 M1443.8,286.5 L1446.5,269.8 M1453.1,250.0 L1450.4,266.8 M1453.1,250.0 L1455.8,266.8 M1453.1,286.5 L1450.4,269.8 M1453.1,286.5 L1455.8,269.8 M1462.4,250.0 L1459.7,266.8 M1462.4,250.0 L1465.1,266.8 M1462.4,286.5 L1459.7,269.8 M1462.4,286.5 L1465.1,269.8 M1471.7,250.0 L1469.0,266.8 M1471.7,250.0 L1474.4,266.8 M1471.7,286.5 L1469.0,269.8 M1471.7,286.5 L1474.4,269.8 M1481.0,250.0 L1478.3,266.8 M1481.0,250.0 L1483.7,266.8 M1481.0,286.5 L1478.3,269.8 M1481.0,286.5 L1483.7,269.8 M1490.3,250.0 L1487.6,266.8 M1490.3,250.0 L1493.0,266.8 M1490.3,286.5 L1487.6,269.8 M1490.3,286.5 L1493.0,269.8 M1499.6,250.0 L1496.9,266.8 M1499.6,250.0 L1502.3,266.8 M1499.6,286.5 L1496.9,269.8 M1499.6,286.5 L1502.3,269.8 M1508.9,250.0 L1506.2,266.8 M1508.9,250.0 L1511.6,266.8 M1508.9,286.5 L1506.2,269.8 M1508.9,286.5 L1511.6,269.8 M1518.2,250.0 L1515.5,266.8 M1518.2,250.0 L1520.9,266.8 M1518.2,286.5 L1515.5,269.8 M1518.2,286.5 L1520.9,269.8 M1527.5,250.0 L1524.8,266.8 M1527.5,250.0 L1530.2,266.8 M1527.5,286.5 L1524.8,269.8 M1527.5,286.5 L1530.2,269.8 M1536.8,250.0 L1534.1,266.8 M1536.8,250.0 L1539.5,266.8 M1536.8,286.5 L1534.1,269.8 M1536.8,286.5 L1539.5,269.8 M1546.1,250.0 L1543.4,266.8 M1546.1,250.0 L1548.8,266.8 M1546.1,286.5 L1543.4,269.8 M1546.1,286.5 L1548.8,269.8 M1555.4,250.0 L1552.7,266.8 M1555.4,250.0 L1558.1,266.8 M1555.4,286.5 L1552.7,269.8 M1555.4,286.5 L1558.1,269.8 M1564.7,250.0 L1562.0,266.8 M1564.7,250.0 L1567.4,266.8 M1564.7,286.5 L1562.0,269.8 M1564.7,286.5 L1567.4,269.8 M1574.0,250.0 L1571.3,266.8 M1574.0,250.0 L1576.7,266.8 M1574.0,286.5 L1571.3,269.8 M1574.0,286.5 L1576.7,269.8 M1583.3,250.0 L1580.6,266.8 M1583.3,250.0 L1586.0,266.8 M1583.3,286.5 L1580.6,269.8 M1583.3,286.5 L1586.0,269.8 M1592.6,250.0 L1589.9,266.8 M1592.6,250.0 L1595.3,266.8 M1592.6,286.5 L1589.9,269.8 M1592.6,286.5 L1595.3,269.8 M1601.9,250.0 L1599.2,266.8 M1601.9,250.0 L1604.6,266.8 M1601.9,286.5 L1599.2,269.8 M1601.9,286.5 L1604.6,269.8 M1611.2,250.0 L1608.5,266.8 M1611.2,250.0 L1613.9,266.8 M1611.2,286.5 L1608.5,269.8 M1611.2,286.5 L1613.9,269.8 M1620.5,250.0 L1617.8,266.8 M1620.5,250.0 L1623.2,266.8 M1620.5,286.5 L1617.8,269.8 M1620.5,286.5 L1623.2,269.8 M1629.8,250.0 L1627.1,266.8 M1629.8,250.0 L1632.5,266.8 M1629.8,286.5 L1627.1,269.8 M1629.8,286.5 L1632.5,269.8 M1639.1,250.0 L1636.4,266.8 M1639.1,250.0 L1641.8,266.8 M1639.1,286.5 L1636.4,269.8 M1639.1,286.5 L1641.8,269.8 M1648.4,250.0 L1645.7,266.8 M1648.4,250.0 L1651.1,266.8 M1648.4,286.5 L1645.7,269.8 M1648.4,286.5 L1651.1,269.8 M1657.7,250.0 L1655.0,266.8 M1657.7,250.0 L1660.4,266.8 M1657.7,286.5 L1655.0,269.8 M1657.7,286.5 L1660.4,269.8 M1667.0,250.0 L1664.3,266.8 M1667.0,250.0 L1669.7,266.8 M1667.0,286.5 L1664.3,269.8 M1667.0,286.5 L1669.7,269.8 M1676.3,250.0 L1673.6,266.8 M1676.3,250.0 L1679.0,266.8 M1676.3,286.5 L1673.6,269.8 M1676.3,286.5 L1679.0,269.8 M1685.6,250.0 L1682.9,266.8 M1685.6,250.0 L1688.3,266.8 M1685.6,286.5 L1682.9,269.8 M1685.6,286.5 L1688.3,269.8 M1694.9,250.0 L1692.2,266.8 M1694.9,250.0 L1697.6,266.8 M1694.9,286.5 L1692.2,269.8 M1694.9,286.5 L1697.6,269.8 M1704.2,250.0 L1701.5,266.8 M1704.2,250.0 L1706.9,266.8 M1704.2,286.5 L1701.5,269.8 M1704.2,286.5 L1706.9,269.8 M1713.5,250.0 L1710.8,266.8 M1713.5,250.0 L1716.2,266.8 M1713.5,286.5 L1710.8,269.8 M1713.5,286.5 L1716.2,269.8 M1722.8,250.0 L1720.1,266.8 M1722.8,250.0 L1725.5,266.8 M1722.8,286.5 L1720.1,269.8 M1722.8,286.5 L1725.5,269.8 M1732.1,250.0 L1729.4,266.8 M1732.1,250.0 L1734.8,266.8 M1732.1,286.5 L1729.4,269.8 M1732.1,286.5 L1734.8,269.8 M1741.4,250.0 L1738.7,266.8 M1741.4,250.0 L1744.1,266.8 M1741.4,286.5 L1738.7,269.8 M1741.4,286.5 L1744.1,269.8 M1750.7,250.0 L1748.0,266.8 M1750.7,250.0 L1753.4,266.8 M1750.7,286.5 L1748.0,269.8 M1750.7,286.5 L1753.4,269.8 M1760.0,250.0 L1757.3,266.8 M1760.0,250.0 L1762.7,266.8 M1760.0,286.5 L1757.3,269.8 M1760.0,286.5 L1762.7,269.8 M1769.3,250.0 L1766.6,266.8 M1769.3,250.0 L1772.0,266.8 M1769.3,286.5 L1766.6,269.8 M1769.3,286.5 L1772.0,269.8 M1778.6,250.0 L1775.9,266.8 M1778.6,250.0 L1781.3,266.8 M1778.6,286.5 L1775.9,269.8 M1778.6,286.5 L1781.3,269.8 M1787.9,250.0 L1785.2,266.8 M1787.9,250.0 L1790.6,266.8 M1787.9,286.5 L1785.2,269.8 M1787.9,286.5 L1790.6,269.8 M1797.2,250.0 L1794.5,266.8 M1797.2,250.0 L1799.9,266.8 M1797.2,286.5 L1794.5,269.8 M1797.2,286.5 L1799.9,269.8 M1806.5,250.0 L1803.8,266.8 M1806.5,250.0 L1809.2,266.8 M1806.5,286.5 L1803.8,269.8 M1806.5,286.5 L1809.2,269.8 M1815.8,250.0 L1813.1,266.8 M1815.8,250.0 L1818.5,266.8 M1815.8,286.5 L1813.1,269.8 M1815.8,286.5 L1818.5,269.8 M1825.1,250.0 L1822.4,266.8 M1825.1,250.0 L1827.8,266.8 M1825.1,286.5 L1822.4,269.8 M1825.1,286.5 L1827.8,269.8 M1834.4,250.0 L1831.7,266.8 M1834.4,250.0 L1837.1,266.8 M1834.4,286.5 L1831.7,269.8 M1834.4,286.5 L1837.1,269.8 M1843.7,250.0 L1841.0,266.8 M1843.7,250.0 L1846.4,266.8 M1843.7,286.5 L1841.0,269.8 M1843.7,286.5 L1846.4,269.8 M1853.0,250.0 L1850.3,266.8 M1853.0,250.0 L1855.7,266.8 M1853.0,286.5 L1850.3,269.8 M1853.0,286.5 L1855.7,269.8 M1862.3,250.0 L1859.6,266.8 M1862.3,250.0 L1865.0,266.8 M1862.3,286.5 L1859.6,269.8 M1862.3,286.5 L1865.0,269.8 M1871.6,250.0 L1868.9,266.8 M1871.6,250.0 L1874.3,266.8 M1871.6,286.5 L1868.9,269.8 M1871.6,286.5 L1874.3,269.8 M1880.9,250.0 L1878.2,266.8 M1880.9,250.0 L1883.6,266.8 M1880.9,286.5 L1878.2,269.8 M1880.9,286.5 L1883.6,269.8 M1890.2,250.0 L1887.5,266.8 M1890.2,250.0 L1892.9,266.8 M1890.2,286.5 L1887.5,269.8 M1890.2,286.5 L1892.9,269.8 M1899.5,250.0 L1896.8,266.8 M1899.5,250.0 L1902.2,266.8 M1899.5,286.5 L1896.8,269.8 M1899.5,286.5 L1902.2,269.8 M1908.8,250.0 L1906.1,266.8 M1908.8,250.0 L1911.5,266.8 M1908.8,286.5 L1906.1,269.8 M1908.8,286.5 L1911.5,269.8 M1918.1,250.0 L1915.4,266.8 M1918.1,250.0 L1920.8,266.8 M1918.1,286.5 L1915.4,269.8 M1918.1,286.5 L1920.8,269.8 M1927.4,250.0 L1924.7,266.8 M1927.4,250.0 L1930.1,266.8 M1927.4,286.5 L1924.7,269.8 M1927.4,286.5 L1930.1,269.8 M1936.7,250.0 L1934.0,266.8 M1936.7,250.0 L1939.4,266.8 M1936.7,286.5 L1934.0,269.8 M1936.7,286.5 L1939.4,269.8 M1946.0,250.0 L1943.3,266.8 M1946.0,250.0 L1948.7,266.8 M1946.0,286.5 L1943.3,269.8 M1946.0,286.5 L1948.7,269.8 M1955.3,250.0 L1952.6,266.8 M1955.3,250.0 L1958.0,266.8 M1955.3,286.5 L1952.6,269.8 M1955.3,286.5 L1958.0,269.8 M1964.6,250.0 L1961.9,266.8 M1964.6,250.0 L1967.3,266.8 M1964.6,286.5 L1961.9,269.8 M1964.6,286.5 L1967.3,269.8 M1973.9,250.0 L1971.2,266.8 M1973.9,250.0 L1976.6,266.8 M1973.9,286.5 L1971.2,269.8 M1973.9,286.5 L1976.6,269.8 M1983.2,250.0 L1980.5,266.8 M1983.2,250.0 L1985.9,266.8 M1983.2,286.5 L1980.5,269.8 M1983.2,286.5 L1985.9,269.8 M1992.5,250.0 L1989.8,266.8 M1992.5,250.0 L1995.2,266.8 M1992.5,286.5 L1989.8,269.8 M1992.5,286.5 L1995.2,269.8 M2001.8,250.0 L1999.1,266.8 M2001.8,250.0 L2004.5,266.8 M2001.8,286.5 L1999.1,269.8 M2001.8,286.5 L2004.5,269.8 M2011.1,250.0 L2008.4,266.8 M2011.1,250.0 L2013.8,266.8 M2011.1,286.5 L2008.4,269.8 M2011.1,286.5 L2013.8,269.8 M2020.4,250.0 L2017.7,266.8 M2020.4,250.0 L2023.1,266.8 M2020.4,286.5 L2017.7,269.8 M2020.4,286.5 L2023.1,269.8 M2029.7,250.0 L2027.0,266.8 M2029.7,250.0 L2032.4,266.8 M2029.7,286.5 L2027.0,269.8 M2029.7,286.5 L2032.4,269.8 M2039.0,250.0 L2036.3,266.8 M2039.0,250.0 L2041.7,266.8 M2039.0,286.5 L2036.3,269.8 M2039.0,286.5 L2041.7,269.8 M2048.3,250.0 L2045.6,266.8 M2048.3,250.0 L2051.0,266.8 M2048.3,286.5 L2045.6,269.8 M2048.3,286.5 L2051.0,269.8 M2057.6,250.0 L2054.9,266.8 M2057.6,250.0 L2060.3,266.8 M2057.6,286.5 L2054.9,269.8 M2057.6,286.5 L2060.3,269.8 M2066.9,250.0 L2064.2,266.8 M2066.9,250.0 L2069.6,266.8 M2066.9,286.5 L2064.2,269.8 M2066.9,286.5 L2069.6,269.8 M2076.2,250.0 L2073.5,266.8 M2076.2,250.0 L2078.9,266.8 M2076.2,286.5 L2073.5,269.8 M2076.2,286.5 L2078.9,269.8 M2085.5,250.0 L2082.8,266.8 M2085.5,250.0 L2088.2,266.8 M2085.5,286.5 L2082.8,269.8 M2085.5,286.5 L2088.2,269.8 M2094.8,250.0 L2092.1,266.8 M2094.8,250.0 L2097.5,266.8 M2094.8,286.5 L2092.1,269.8 M2094.8,286.5 L2097.5,269.8 M2104.1,250.0 L2101.4,266.8 M2104.1,250.0 L2106.8,266.8 M2104.1,286.5 L2101.4,269.8 M2104.1,286.5 L2106.8,269.8 M2113.4,250.0 L2110.7,266.8 M2113.4,250.0 L2116.1,266.8 M2113.4,286.5 L2110.7,269.8 M2113.4,286.5 L2116.1,269.8 M2122.7,250.0 L2120.0,266.8 M2122.7,250.0 L2125.4,266.8 M2122.7,286.5 L2120.0,269.8 M2122.7,286.5 L2125.4,269.8 M2132.0,250.0 L2129.3,266.8 M2132.0,250.0 L2134.7,266.8 M2132.0,286.5 L2129.3,269.8 M2132.0,286.5 L2134.7,269.8 M2141.3,250.0 L2138.6,266.8 M2141.3,250.0 L2144.0,266.8 M2141.3,286.5 L2138.6,269.8 M2141.3,286.5 L2144.0,269.8 M2150.6,250.0 L2147.9,266.8 M2150.6,250.0 L2153.3,266.8 M2150.6,286.5 L2147.9,269.8 M2150.6,286.5 L2153.3,269.8 M2159.9,250.0 L2157.2,266.8 M2159.9,250.0 L2162.6,266.8 M2159.9,286.5 L2157.2,269.8 M2159.9,286.5 L2162.6,269.8 M2169.2,250.0 L2166.5,266.8 M2169.2,250.0 L2171.9,266.8 M2169.2,286.5 L2166.5,269.8 M2169.2,286.5 L2171.9,269.8 M2178.5,250.0 L2175.8,266.8 M2178.5,250.0 L2181.2,266.8 M2178.5,286.5 L2175.8,269.8 M2178.5,286.5 L2181.2,269.8 M2187.8,250.0 L2185.1,266.8 M2187.8,250.0 L2190.5,266.8 M2187.8,286.5 L2185.1,269.8 M2187.8,286.5 L2190.5,269.8 M2197.1,250.0 L2194.4,266.8 M2197.1,250.0 L2199.8,266.8 M2197.1,286.5 L2194.4,269.8 M2197.1,286.5 L2199.8,269.8 M2206.4,250.0 L2203.7,266.8 M2206.4,250.0 L2209.1,266.8 M2206.4,286.5 L2203.7,269.8 M2206.4,286.5 L2209.1,269.8 M2215.7,250.0 L2213.0,266.8 M2215.7,250.0 L2218.4,266.8 M2215.7,286.5 L2213.0,269.8 M2215.7,286.5 L2218.4,269.8 M2225.0,250.0 L2222.3,266.8 M2225.0,250.0 L2227.7,266.8 M2225.0,286.5 L2222.3,269.8 M2225.0,286.5 L2227.7,269.8 M2234.3,250.0 L2231.6,266.8 M2234.3,250.0 L2237.0,266.8 M2234.3,286.5 L2231.6,269.8 M2234.3,286.5 L2237.0,269.8 M2243.6,250.0 L2240.9,266.8 M2243.6,250.0 L2246.3,266.8 M2243.6,286.5 L2240.9,269.8 M2243.6,286.5 L2246.3,269.8 M2252.9,250.0 L2250.2,266.8 M2252.9,250.0 L2255.6,266.8 M2252.9,286.5 L2250.2,269.8 M2252.9,286.5 L2255.6,269.8 M2262.2,250.0 L2259.5,266.8 M2262.2,250.0 L2264.9,266.8 M2262.2,286.5 L2259.5,269.8 M2262.2,286.5 L2264.9,269.8 M2271.5,250.0 L2268.8,266.8 M2271.5,250.0 L2274.2,266.8 M2271.5,286.5 L2268.8,269.8 M2271.5,286.5 L2274.2,269.8 M2280.8,250.0 L2278.1,266.8 M2280.8,250.0 L2283.5,266.8 M2280.8,286.5 L2278.1,269.8 M2280.8,286.5 L2283.5,269.8 M2290.1,250.0 L2287.4,266.8 M2290.1,250.0 L2292.8,266.8 M2290.1,286.5 L2287.4,269.8 M2290.1,286.5 L2292.8,269.8 M2299.4,250.0 L2296.7,266.8 M2299.4,250.0 L2302.1,266.8 M2299.4,286.5 L2296.7,269.8 M2299.4,286.5 L2302.1,269.8 M2308.7,250.0 L2306.0,266.8 M2308.7,250.0 L2311.4,266.8 M2308.7,286.5 L2306.0,269.8 M2308.7,286.5 L2311.4,269.8 M2318.0,250.0 L2315.3,266.8 M2318.0,250.0 L2320.7,266.8 M2318.0,286.5 L2315.3,269.8 M2318.0,286.5 L2320.7,269.8 M2327.3,250.0 L2324.6,266.8 M2327.3,250.0 L2330.0,266.8 M2327.3,286.5 L2324.6,269.8 M2327.3,286.5 L2330.0,269.8 M2336.6,250.0 L2333.9,266.8 M2336.6,250.0 L2339.3,266.8 M2336.6,286.5 L2333.9,269.8 M2336.6,286.5 L2339.3,269.8 M2345.9,250.0 L2343.2,266.8 M2345.9,250.0 L2348.6,266.8 M2345.9,286.5 L2343.2,269.8 M2345.9,286.5 L2348.6,269.8 M2355.2,250.0 L2352.5,266.8 M2355.2,250.0 L2357.9,266.8 M2355.2,286.5 L2352.5,269.8 M2355.2,286.5 L2357.9,269.8 M2364.5,250.0 L2361.8,266.8 M2364.5,250.0 L2367.2,266.8 M2364.5,286.5 L2361.8,269.8 M2364.5,286.5 L2367.2,269.8 M2373.8,250.0 L2371.1,266.8 M2373.8,250.0 L2376.5,266.8 M2373.8,286.5 L2371.1,269.8 M2373.8,286.5 L2376.5,269.8 M2383.1,250.0 L2380.4,266.8 M2383.1,250.0 L2385.8,266.8 M2383.1,286.5 L2380.4,269.8 M2383.1,286.5 L2385.8,269.8 M2392.4,250.0 L2389.7,266.8 M2392.4,250.0 L2395.1,266.8 M2392.4,286.5 L2389.7,269.8 M2392.4,286.5 L2395.1,269.8 M2401.7,250.0 L2399.0,266.8 M2401.7,250.0 L2404.4,266.8 M2401.7,286.5 L2399.0,269.8 M2401.7,286.5 L2404.4,269.8 M2411.0,250.0 L2408.3,266.8 M2411.0,250.0 L2413.7,266.8 M2411.0,286.5 L2408.3,269.8 M2411.0,286.5 L2413.7,269.8" stroke="#d0ddec" stroke-width="2.1" fill="none"/><g fill="#8c9db8"><circle cx="1434.5" cy="247.0" r="3.7"/><circle cx="1434.5" cy="289.5" r="3.7"/><circle cx="1443.8" cy="247.0" r="3.7"/><circle cx="1443.8" cy="289.5" r="3.7"/><circle cx="1453.1" cy="247.0" r="3.7"/><circle cx="1453.1" cy="289.5" r="3.7"/><circle cx="1462.4" cy="247.0" r="3.7"/><circle cx="1462.4" cy="289.5" r="3.7"/><circle cx="1471.7" cy="247.0" r="3.7"/><circle cx="1471.7" cy="289.5" r="3.7"/><circle cx="1481.0" cy="247.0" r="3.7"/><circle cx="1481.0" cy="289.5" r="3.7"/><circle cx="1490.3" cy="247.0" r="3.7"/><circle cx="1490.3" cy="289.5" r="3.7"/><circle cx="1499.6" cy="247.0" r="3.7"/><circle cx="1499.6" cy="289.5" r="3.7"/><circle cx="1508.9" cy="247.0" r="3.7"/><circle cx="1508.9" cy="289.5" r="3.7"/><circle cx="1518.2" cy="247.0" r="3.7"/><circle cx="1518.2" cy="289.5" r="3.7"/><circle cx="1527.5" cy="247.0" r="3.7"/><circle cx="1527.5" cy="289.5" r="3.7"/><circle cx="1536.8" cy="247.0" r="3.7"/><circle cx="1536.8" cy="289.5" r="3.7"/><circle cx="1546.1" cy="247.0" r="3.7"/><circle cx="1546.1" cy="289.5" r="3.7"/><circle cx="1555.4" cy="247.0" r="3.7"/><circle cx="1555.4" cy="289.5" r="3.7"/><circle cx="1564.7" cy="247.0" r="3.7"/><circle cx="1564.7" cy="289.5" r="3.7"/><circle cx="1574.0" cy="247.0" r="3.7"/><circle cx="1574.0" cy="289.5" r="3.7"/><circle cx="1583.3" cy="247.0" r="3.7"/><circle cx="1583.3" cy="289.5" r="3.7"/><circle cx="1592.6" cy="247.0" r="3.7"/><circle cx="1592.6" cy="289.5" r="3.7"/><circle cx="1601.9" cy="247.0" r="3.7"/><circle cx="1601.9" cy="289.5" r="3.7"/><circle cx="1611.2" cy="247.0" r="3.7"/><circle cx="1611.2" cy="289.5" r="3.7"/><circle cx="1620.5" cy="247.0" r="3.7"/><circle cx="1620.5" cy="289.5" r="3.7"/><circle cx="1629.8" cy="247.0" r="3.7"/><circle cx="1629.8" cy="289.5" r="3.7"/><circle cx="1639.1" cy="247.0" r="3.7"/><circle cx="1639.1" cy="289.5" r="3.7"/><circle cx="1648.4" cy="247.0" r="3.7"/><circle cx="1648.4" cy="289.5" r="3.7"/><circle cx="1657.7" cy="247.0" r="3.7"/><circle cx="1657.7" cy="289.5" r="3.7"/><circle cx="1667.0" cy="247.0" r="3.7"/><circle cx="1667.0" cy="289.5" r="3.7"/><circle cx="1676.3" cy="247.0" r="3.7"/><circle cx="1676.3" cy="289.5" r="3.7"/><circle cx="1685.6" cy="247.0" r="3.7"/><circle cx="1685.6" cy="289.5" r="3.7"/><circle cx="1694.9" cy="247.0" r="3.7"/><circle cx="1694.9" cy="289.5" r="3.7"/><circle cx="1704.2" cy="247.0" r="3.7"/><circle cx="1704.2" cy="289.5" r="3.7"/><circle cx="1713.5" cy="247.0" r="3.7"/><circle cx="1713.5" cy="289.5" r="3.7"/><circle cx="1722.8" cy="247.0" r="3.7"/><circle cx="1722.8" cy="289.5" r="3.7"/><circle cx="1732.1" cy="247.0" r="3.7"/><circle cx="1732.1" cy="289.5" r="3.7"/><circle cx="1741.4" cy="247.0" r="3.7"/><circle cx="1741.4" cy="289.5" r="3.7"/><circle cx="1750.7" cy="247.0" r="3.7"/><circle cx="1750.7" cy="289.5" r="3.7"/><circle cx="1760.0" cy="247.0" r="3.7"/><circle cx="1760.0" cy="289.5" r="3.7"/><circle cx="1769.3" cy="247.0" r="3.7"/><circle cx="1769.3" cy="289.5" r="3.7"/><circle cx="1778.6" cy="247.0" r="3.7"/><circle cx="1778.6" cy="289.5" r="3.7"/><circle cx="1787.9" cy="247.0" r="3.7"/><circle cx="1787.9" cy="289.5" r="3.7"/><circle cx="1797.2" cy="247.0" r="3.7"/><circle cx="1797.2" cy="289.5" r="3.7"/><circle cx="1806.5" cy="247.0" r="3.7"/><circle cx="1806.5" cy="289.5" r="3.7"/><circle cx="1815.8" cy="247.0" r="3.7"/><circle cx="1815.8" cy="289.5" r="3.7"/><circle cx="1825.1" cy="247.0" r="3.7"/><circle cx="1825.1" cy="289.5" r="3.7"/><circle cx="1834.4" cy="247.0" r="3.7"/><circle cx="1834.4" cy="289.5" r="3.7"/><circle cx="1843.7" cy="247.0" r="3.7"/><circle cx="1843.7" cy="289.5" r="3.7"/><circle cx="1853.0" cy="247.0" r="3.7"/><circle cx="1853.0" cy="289.5" r="3.7"/><circle cx="1862.3" cy="247.0" r="3.7"/><circle cx="1862.3" cy="289.5" r="3.7"/><circle cx="1871.6" cy="247.0" r="3.7"/><circle cx="1871.6" cy="289.5" r="3.7"/><circle cx="1880.9" cy="247.0" r="3.7"/><circle cx="1880.9" cy="289.5" r="3.7"/><circle cx="1890.2" cy="247.0" r="3.7"/><circle cx="1890.2" cy="289.5" r="3.7"/><circle cx="1899.5" cy="247.0" r="3.7"/><circle cx="1899.5" cy="289.5" r="3.7"/><circle cx="1908.8" cy="247.0" r="3.7"/><circle cx="1908.8" cy="289.5" r="3.7"/><circle cx="1918.1" cy="247.0" r="3.7"/><circle cx="1918.1" cy="289.5" r="3.7"/><circle cx="1927.4" cy="247.0" r="3.7"/><circle cx="1927.4" cy="289.5" r="3.7"/><circle cx="1936.7" cy="247.0" r="3.7"/><circle cx="1936.7" cy="289.5" r="3.7"/><circle cx="1946.0" cy="247.0" r="3.7"/><circle cx="1946.0" cy="289.5" r="3.7"/><circle cx="1955.3" cy="247.0" r="3.7"/><circle cx="1955.3" cy="289.5" r="3.7"/><circle cx="1964.6" cy="247.0" r="3.7"/><circle cx="1964.6" cy="289.5" r="3.7"/><circle cx="1973.9" cy="247.0" r="3.7"/><circle cx="1973.9" cy="289.5" r="3.7"/><circle cx="1983.2" cy="247.0" r="3.7"/><circle cx="1983.2" cy="289.5" r="3.7"/><circle cx="1992.5" cy="247.0" r="3.7"/><circle cx="1992.5" cy="289.5" r="3.7"/><circle cx="2001.8" cy="247.0" r="3.7"/><circle cx="2001.8" cy="289.5" r="3.7"/><circle cx="2011.1" cy="247.0" r="3.7"/><circle cx="2011.1" cy="289.5" r="3.7"/><circle cx="2020.4" cy="247.0" r="3.7"/><circle cx="2020.4" cy="289.5" r="3.7"/><circle cx="2029.7" cy="247.0" r="3.7"/><circle cx="2029.7" cy="289.5" r="3.7"/><circle cx="2039.0" cy="247.0" r="3.7"/><circle cx="2039.0" cy="289.5" r="3.7"/><circle cx="2048.3" cy="247.0" r="3.7"/><circle cx="2048.3" cy="289.5" r="3.7"/><circle cx="2057.6" cy="247.0" r="3.7"/><circle cx="2057.6" cy="289.5" r="3.7"/><circle cx="2066.9" cy="247.0" r="3.7"/><circle cx="2066.9" cy="289.5" r="3.7"/><circle cx="2076.2" cy="247.0" r="3.7"/><circle cx="2076.2" cy="289.5" r="3.7"/><circle cx="2085.5" cy="247.0" r="3.7"/><circle cx="2085.5" cy="289.5" r="3.7"/><circle cx="2094.8" cy="247.0" r="3.7"/><circle cx="2094.8" cy="289.5" r="3.7"/><circle cx="2104.1" cy="247.0" r="3.7"/><circle cx="2104.1" cy="289.5" r="3.7"/><circle cx="2113.4" cy="247.0" r="3.7"/><circle cx="2113.4" cy="289.5" r="3.7"/><circle cx="2122.7" cy="247.0" r="3.7"/><circle cx="2122.7" cy="289.5" r="3.7"/><circle cx="2132.0" cy="247.0" r="3.7"/><circle cx="2132.0" cy="289.5" r="3.7"/><circle cx="2141.3" cy="247.0" r="3.7"/><circle cx="2141.3" cy="289.5" r="3.7"/><circle cx="2150.6" cy="247.0" r="3.7"/><circle cx="2150.6" cy="289.5" r="3.7"/><circle cx="2159.9" cy="247.0" r="3.7"/><circle cx="2159.9" cy="289.5" r="3.7"/><circle cx="2169.2" cy="247.0" r="3.7"/><circle cx="2169.2" cy="289.5" r="3.7"/><circle cx="2178.5" cy="247.0" r="3.7"/><circle cx="2178.5" cy="289.5" r="3.7"/><circle cx="2187.8" cy="247.0" r="3.7"/><circle cx="2187.8" cy="289.5" r="3.7"/><circle cx="2197.1" cy="247.0" r="3.7"/><circle cx="2197.1" cy="289.5" r="3.7"/><circle cx="2206.4" cy="247.0" r="3.7"/><circle cx="2206.4" cy="289.5" r="3.7"/><circle cx="2215.7" cy="247.0" r="3.7"/><circle cx="2215.7" cy="289.5" r="3.7"/><circle cx="2225.0" cy="247.0" r="3.7"/><circle cx="2225.0" cy="289.5" r="3.7"/><circle cx="2234.3" cy="247.0" r="3.7"/><circle cx="2234.3" cy="289.5" r="3.7"/><circle cx="2243.6" cy="247.0" r="3.7"/><circle cx="2243.6" cy="289.5" r="3.7"/><circle cx="2252.9" cy="247.0" r="3.7"/><circle cx="2252.9" cy="289.5" r="3.7"/><circle cx="2262.2" cy="247.0" r="3.7"/><circle cx="2262.2" cy="289.5" r="3.7"/><circle cx="2271.5" cy="247.0" r="3.7"/><circle cx="2271.5" cy="289.5" r="3.7"/><circle cx="2280.8" cy="247.0" r="3.7"/><circle cx="2280.8" cy="289.5" r="3.7"/><circle cx="2290.1" cy="247.0" r="3.7"/><circle cx="2290.1" cy="289.5" r="3.7"/><circle cx="2299.4" cy="247.0" r="3.7"/><circle cx="2299.4" cy="289.5" r="3.7"/><circle cx="2308.7" cy="247.0" r="3.7"/><circle cx="2308.7" cy="289.5" r="3.7"/><circle cx="2318.0" cy="247.0" r="3.7"/><circle cx="2318.0" cy="289.5" r="3.7"/><circle cx="2327.3" cy="247.0" r="3.7"/><circle cx="2327.3" cy="289.5" r="3.7"/><circle cx="2336.6" cy="247.0" r="3.7"/><circle cx="2336.6" cy="289.5" r="3.7"/><circle cx="2345.9" cy="247.0" r="3.7"/><circle cx="2345.9" cy="289.5" r="3.7"/><circle cx="2355.2" cy="247.0" r="3.7"/><circle cx="2355.2" cy="289.5" r="3.7"/><circle cx="2364.5" cy="247.0" r="3.7"/><circle cx="2364.5" cy="289.5" r="3.7"/><circle cx="2373.8" cy="247.0" r="3.7"/><circle cx="2373.8" cy="289.5" r="3.7"/><circle cx="2383.1" cy="247.0" r="3.7"/><circle cx="2383.1" cy="289.5" r="3.7"/><circle cx="2392.4" cy="247.0" r="3.7"/><circle cx="2392.4" cy="289.5" r="3.7"/><circle cx="2401.7" cy="247.0" r="3.7"/><circle cx="2401.7" cy="289.5" r="3.7"/><circle cx="2411.0" cy="247.0" r="3.7"/><circle cx="2411.0" cy="289.5" r="3.7"/></g></g>
<rect x="238.2" y="225.0" width="10" height="187.5" rx="5" fill="#2f3f7a"/><rect x="241.8" y="229.0" width="3" height="179.5" fill="#3f8f9a"/><rect x="224.2" y="117.0" width="38.1" height="36.5" rx="6" fill="#4a9ca3" stroke="#2f3f7a" stroke-width="4.5"/><rect x="224.2" y="155.0" width="38.1" height="36.5" rx="6" fill="#4a9ca3" stroke="#2f3f7a" stroke-width="4.5"/><rect x="224.2" y="193.0" width="38.1" height="36.5" rx="6" fill="#4a9ca3" stroke="#2f3f7a" stroke-width="4.5"/><rect x="226.6" y="329.7" width="36.8" height="33.7" rx="6" fill="#4a9ca3" stroke="#2f3f7a" stroke-width="4.5"/><rect x="226.6" y="371.5" width="36.8" height="34.1" rx="6" fill="#4a9ca3" stroke="#2f3f7a" stroke-width="4.5"/><rect x="238.2" y="317.5" width="10" height="95.0" rx="5" fill="#2f3f7a"/><rect x="241.8" y="317.5" width="3" height="91.0" fill="#3f8f9a"/><polygon points="243.2,46.8 255.2,71.8 281.9,75.8 262.6,95.2 267.1,122.6 243.2,109.7 219.4,122.6 223.9,95.2 204.6,75.8 231.3,71.8" fill="#cfe9e2" stroke="#276b5e" stroke-width="3.6" stroke-linejoin="round"/>
<rect x="1009.4" y="225.4" width="10" height="188.1" rx="5" fill="#2f3f7a"/><rect x="1012.9" y="229.4" width="3" height="180.1" fill="#3f8f9a"/><rect x="996.0" y="124.0" width="36.8" height="32.5" rx="6" fill="#4a9ca3" stroke="#2f3f7a" stroke-width="4.5"/><rect x="996.0" y="158.0" width="36.8" height="35.2" rx="6" fill="#4a9ca3" stroke="#2f3f7a" stroke-width="4.5"/><rect x="996.0" y="194.7" width="36.8" height="35.2" rx="6" fill="#4a9ca3" stroke="#2f3f7a" stroke-width="4.5"/><rect x="995.5" y="329.7" width="35.8" height="34.3" rx="6" fill="#4a9ca3" stroke="#2f3f7a" stroke-width="4.5"/><rect x="995.5" y="372.5" width="35.8" height="32.7" rx="6" fill="#4a9ca3" stroke="#2f3f7a" stroke-width="4.5"/><rect x="1009.4" y="317.5" width="10" height="96.0" rx="5" fill="#2f3f7a"/><rect x="1012.9" y="317.5" width="3" height="92.0" fill="#3f8f9a"/><polygon points="1014.4,52.8 1026.4,77.8 1053.1,81.8 1033.8,101.2 1038.3,128.7 1014.4,115.7 990.5,128.7 995.0,101.2 975.7,81.8 1002.4,77.8" fill="#cfe9e2" stroke="#276b5e" stroke-width="3.6" stroke-linejoin="round"/>
<rect x="1505.9" y="202.0" width="10" height="192.4" rx="5" fill="#2f3f7a"/><rect x="1509.4" y="206.0" width="3" height="184.4" fill="#3f8f9a"/><rect x="1492.5" y="100.0" width="36.8" height="34.1" rx="6" fill="#4a9ca3" stroke="#2f3f7a" stroke-width="4.5"/><rect x="1492.5" y="135.6" width="36.8" height="34.2" rx="6" fill="#4a9ca3" stroke="#2f3f7a" stroke-width="4.5"/><rect x="1492.5" y="171.3" width="36.8" height="35.2" rx="6" fill="#4a9ca3" stroke="#2f3f7a" stroke-width="4.5"/><rect x="1494.0" y="311.9" width="37.4" height="33.4" rx="6" fill="#4a9ca3" stroke="#2f3f7a" stroke-width="4.5"/><rect x="1494.0" y="354.3" width="37.4" height="32.8" rx="6" fill="#4a9ca3" stroke="#2f3f7a" stroke-width="4.5"/><rect x="1505.9" y="299.7" width="10" height="94.7" rx="5" fill="#2f3f7a"/><rect x="1509.4" y="299.7" width="3" height="90.7" fill="#3f8f9a"/><polygon points="1510.9,29.3 1522.9,54.3 1549.6,58.3 1530.3,77.7 1534.8,105.2 1510.9,92.2 1487.0,105.2 1491.5,77.7 1472.2,58.3 1498.9,54.3" fill="#cfe9e2" stroke="#276b5e" stroke-width="3.6" stroke-linejoin="round"/>
<rect x="2283.7" y="218.3" width="10" height="193.4" rx="5" fill="#2f3f7a"/><rect x="2287.2" y="222.3" width="3" height="185.4" fill="#3f8f9a"/><rect x="2270.2" y="117.2" width="37.0" height="33.3" rx="6" fill="#4a9ca3" stroke="#2f3f7a" stroke-width="4.5"/><rect x="2270.2" y="152.0" width="37.0" height="34.1" rx="6" fill="#4a9ca3" stroke="#2f3f7a" stroke-width="4.5"/><rect x="2270.2" y="187.6" width="37.0" height="35.2" rx="6" fill="#4a9ca3" stroke="#2f3f7a" stroke-width="4.5"/><rect x="2271.6" y="328.2" width="38.4" height="33.4" rx="6" fill="#4a9ca3" stroke="#2f3f7a" stroke-width="4.5"/><rect x="2271.6" y="370.5" width="38.4" height="33.9" rx="6" fill="#4a9ca3" stroke="#2f3f7a" stroke-width="4.5"/><rect x="2283.7" y="316.0" width="10" height="95.7" rx="5" fill="#2f3f7a"/><rect x="2287.2" y="316.0" width="3" height="91.7" fill="#3f8f9a"/><polygon points="2288.7,45.6 2300.7,70.6 2327.5,74.6 2308.1,94.1 2312.7,121.6 2288.7,108.6 2264.7,121.6 2269.3,94.1 2249.9,74.6 2276.7,70.6" fill="#cfe9e2" stroke="#276b5e" stroke-width="3.6" stroke-linejoin="round"/>
<g transform="translate(0.0,0.0)"><line x1="651.6" y1="225" x2="651.6" y2="306.5" stroke="#2b2670" stroke-width="2.4"/><line x1="677.0" y1="225" x2="677.0" y2="306.5" stroke="#2b2670" stroke-width="2.4"/><line x1="651.6" y1="237.6" x2="677" y2="237.6" stroke="#2b2670" stroke-width="2.4"/><rect x="642.3" y="171" width="20.6" height="55" rx="10.3" fill="#5f4ba8" stroke="#41328a" stroke-width="2"/><rect x="667" y="171" width="21" height="55" rx="10.5" fill="#5f4ba8" stroke="#41328a" stroke-width="2"/><line x1="712.0" y1="214" x2="712.0" y2="326" stroke="#0f4053" stroke-width="4.4" stroke-linecap="round"/><line x1="746.8" y1="214" x2="746.8" y2="326" stroke="#0f4053" stroke-width="4.4" stroke-linecap="round"/><line x1="712" y1="231.4" x2="746.8" y2="231.4" stroke="#0f4053" stroke-width="4.4"/><path d="M698.8,89 Q709.3,89 712.3,84 Q715.3,88 725.8,89 L725.8,150 Q725.8,154.5 721.8,154.5 L702.8,154.5 Q698.8,154.5 698.8,150 Z" fill="#1c73a4" stroke="#15527a" stroke-width="1.6"/><rect x="698.8" y="154.5" width="27.0" height="60" rx="5" fill="#1c73a4" stroke="#15527a" stroke-width="1.6"/><path d="M733.6,89 Q744.2,89 747.2,84 Q750.2,88 760.8,89 L760.8,150 Q760.8,154.5 756.8,154.5 L737.6,154.5 Q733.6,154.5 733.6,150 Z" fill="#1c73a4" stroke="#15527a" stroke-width="1.6"/><rect x="733.6" y="154.5" width="27.2" height="60" rx="5" fill="#1c73a4" stroke="#15527a" stroke-width="1.6"/><line x1="776.5" y1="234" x2="776.5" y2="308" stroke="#8a4518" stroke-width="3.8"/><rect x="765.7" y="172.3" width="22.6" height="63.4" rx="4.5" fill="#d97b2c" stroke="#8a4518" stroke-width="2.2"/><path d="M766,177.5 L766,176.5 Q766,172.5 770,172.5 L784,172.5 Q788,172.5 788,176.5 L788,177.5 Z" fill="#8a4518"/></g>
<g transform="translate(1231.3,-17.3)"><line x1="651.6" y1="225" x2="651.6" y2="306.5" stroke="#2b2670" stroke-width="2.4"/><line x1="677.0" y1="225" x2="677.0" y2="306.5" stroke="#2b2670" stroke-width="2.4"/><line x1="651.6" y1="237.6" x2="677" y2="237.6" stroke="#2b2670" stroke-width="2.4"/><rect x="642.3" y="171" width="20.6" height="55" rx="10.3" fill="#5f4ba8" stroke="#41328a" stroke-width="2"/><rect x="667" y="171" width="21" height="55" rx="10.5" fill="#5f4ba8" stroke="#41328a" stroke-width="2"/><line x1="712.0" y1="214" x2="712.0" y2="326" stroke="#0f4053" stroke-width="4.4" stroke-linecap="round"/><line x1="746.8" y1="214" x2="746.8" y2="326" stroke="#0f4053" stroke-width="4.4" stroke-linecap="round"/><line x1="712" y1="231.4" x2="746.8" y2="231.4" stroke="#0f4053" stroke-width="4.4"/><path d="M698.8,89 Q709.3,89 712.3,84 Q715.3,88 725.8,89 L725.8,150 Q725.8,154.5 721.8,154.5 L702.8,154.5 Q698.8,154.5 698.8,150 Z" fill="#1c73a4" stroke="#15527a" stroke-width="1.6"/><rect x="698.8" y="154.5" width="27.0" height="60" rx="5" fill="#1c73a4" stroke="#15527a" stroke-width="1.6"/><path d="M733.6,89 Q744.2,89 747.2,84 Q750.2,88 760.8,89 L760.8,150 Q760.8,154.5 756.8,154.5 L737.6,154.5 Q733.6,154.5 733.6,150 Z" fill="#1c73a4" stroke="#15527a" stroke-width="1.6"/><rect x="733.6" y="154.5" width="27.2" height="60" rx="5" fill="#1c73a4" stroke="#15527a" stroke-width="1.6"/><line x1="776.5" y1="234" x2="776.5" y2="308" stroke="#8a4518" stroke-width="3.8"/><rect x="765.7" y="172.3" width="22.6" height="63.4" rx="4.5" fill="#d97b2c" stroke="#8a4518" stroke-width="2.2"/><path d="M766,177.5 L766,176.5 Q766,172.5 770,172.5 L784,172.5 Q788,172.5 788,176.5 L788,177.5 Z" fill="#8a4518"/></g>
<path d="M640,458 L638.5,447 Q638,436 652,436 Q664,437 678,447" fill="none" stroke="#4d66a6" stroke-width="7.4" stroke-linecap="round"/>
<line x1="652.5" y1="441" x2="661" y2="457" stroke="#a03030" stroke-width="1"/>
<g transform="translate(623.0,474.7) rotate(-27)"><rect x="-29" y="-21" width="58" height="42" rx="14" fill="#6685cb"/><rect x="-23" y="-20" width="52" height="35" rx="13" fill="#8094cd"/></g><g transform="translate(614.0,519.6) rotate(-27)"><rect x="-29" y="-21" width="58" height="42" rx="14" fill="#6685cb"/><rect x="-23" y="-20" width="52" height="35" rx="13" fill="#8094cd"/></g><g transform="translate(628.4,550.0) rotate(-27)"><rect x="-29" y="-21" width="58" height="42" rx="14" fill="#6685cb"/><rect x="-23" y="-20" width="52" height="35" rx="13" fill="#8094cd"/></g><g transform="translate(644.7,575.7) rotate(-27)"><rect x="-29" y="-21" width="58" height="42" rx="14" fill="#6685cb"/><rect x="-23" y="-20" width="52" height="35" rx="13" fill="#8094cd"/></g>
<path d="M671.5,429.8 C671.5,425.0 672.3,421.0 674.3,417.1 C676.3,413.2 679.1,409.0 683.3,406.3 C687.5,403.6 693.9,401.6 699.6,400.8 C705.4,400.0 711.8,402.0 717.8,401.7 C723.8,401.4 731.1,400.6 735.9,399.0 C740.7,397.4 743.8,394.2 746.8,391.8 C749.8,389.4 750.7,386.3 754.0,384.5 C757.3,382.7 762.2,381.2 766.7,381.2 C771.2,381.2 777.0,382.4 781.2,384.5 C785.4,386.6 789.4,389.7 792.1,393.6 C794.8,397.5 796.0,403.0 797.5,408.1 C799.0,413.2 800.8,418.7 801.1,424.4 C801.4,430.1 800.5,437.4 799.3,442.5 C798.1,447.6 796.0,452.0 793.9,455.2 C791.8,458.4 789.3,461.2 786.6,461.5 C783.9,461.8 780.0,459.6 777.6,457.0 C775.2,454.4 774.8,448.5 772.1,446.1 C769.4,443.7 764.3,441.9 761.3,442.5 C758.3,443.1 756.4,447.4 754.0,449.8 C751.6,452.2 748.9,456.7 746.8,457.0 C744.7,457.3 742.5,453.4 741.3,451.6 C740.1,449.8 740.7,447.3 739.5,446.1 C738.3,444.9 736.1,444.0 734.1,444.3 C732.1,444.6 728.9,446.1 727.7,447.9 C726.5,449.7 726.0,453.1 726.8,455.2 C727.6,457.3 731.1,458.8 732.3,460.6 C733.5,462.4 735.3,463.7 734.1,466.1 C732.9,468.5 728.6,473.2 725.0,475.1 C721.4,477.1 716.5,478.1 712.3,477.8 C708.1,477.5 703.2,475.6 699.6,473.3 C696.0,471.1 693.3,467.0 690.6,464.3 C687.9,461.6 686.0,460.0 683.3,457.0 C680.6,454.0 676.3,450.6 674.3,446.1 C672.3,441.6 671.5,434.6 671.5,429.8 Z" fill="#6babb1"/>
<path d="M690,440 Q700,424 722,428 Q745,418 752,428 Q770,430 778,420" fill="none" stroke="#5a9fa6" stroke-width="6" stroke-linecap="round" opacity="0.55"/>
<circle cx="671.2" cy="475" r="20.4" fill="#f3281b"/>
<text x="671.2" y="482" font-size="19" text-anchor="middle" fill="#111" transform="rotate(100 671.2 475)">P</text>
<g transform="translate(1913.0,420.7) rotate(-27)"><rect x="-29" y="-21" width="58" height="42" rx="14" fill="#6685cb"/><rect x="-23" y="-20" width="52" height="35" rx="13" fill="#8094cd"/></g><g transform="translate(1904.0,465.6) rotate(-27)"><rect x="-29" y="-21" width="58" height="42" rx="14" fill="#6685cb"/><rect x="-23" y="-20" width="52" height="35" rx="13" fill="#8094cd"/></g><g transform="translate(1918.4,496.0) rotate(-27)"><rect x="-29" y="-21" width="58" height="42" rx="14" fill="#6685cb"/><rect x="-23" y="-20" width="52" height="35" rx="13" fill="#8094cd"/></g><g transform="translate(1934.7,521.7) rotate(-27)"><rect x="-29" y="-21" width="58" height="42" rx="14" fill="#6685cb"/><rect x="-23" y="-20" width="52" height="35" rx="13" fill="#8094cd"/></g>
<path d="M1929.6,406 L1929,392 Q1929,383 1939,383.5 L1960,387" fill="none" stroke="#c9232e" stroke-width="7.6" stroke-linecap="round"/>
<path d="M1957.9,387.6 C1957.9,384.3 1958.8,379.1 1960.6,374.9 C1962.4,370.7 1965.0,365.8 1968.8,362.2 C1972.6,358.6 1978.2,355.2 1983.3,353.1 C1988.4,351.1 1994.8,349.8 1999.6,349.9 C2004.4,350.0 2008.7,351.4 2012.3,354.0 C2015.9,356.6 2018.0,362.3 2021.3,365.8 C2024.6,369.3 2027.7,372.6 2032.2,374.9 C2036.7,377.2 2043.1,378.8 2048.5,379.4 C2053.9,380.0 2060.0,377.1 2064.8,378.5 C2069.6,379.9 2074.2,383.4 2077.5,387.6 C2080.8,391.8 2083.7,398.5 2084.8,403.9 C2085.9,409.3 2085.4,414.8 2083.9,420.2 C2082.4,425.6 2078.9,431.7 2075.7,436.5 C2072.5,441.3 2069.3,445.4 2064.8,449.2 C2060.3,453.0 2053.2,458.0 2048.5,459.2 C2043.8,460.4 2039.4,458.7 2036.7,456.4 C2034.0,454.1 2032.2,448.9 2032.2,445.6 C2032.2,442.3 2037.0,439.2 2036.7,436.5 C2036.4,433.8 2033.3,430.2 2030.4,429.3 C2027.5,428.4 2022.8,431.4 2019.5,431.1 C2016.2,430.8 2011.9,429.8 2010.4,427.4 C2008.9,425.0 2011.0,419.5 2010.4,416.6 C2009.8,413.7 2008.5,411.4 2006.8,410.2 C2005.1,409.0 2002.3,408.7 2000.5,409.3 C1998.7,409.9 1996.5,412.0 1995.9,413.8 C1995.3,415.6 1997.4,418.2 1996.8,420.2 C1996.2,422.2 1994.5,425.0 1992.3,425.6 C1990.0,426.2 1986.6,425.6 1983.3,423.8 C1980.0,422.0 1975.4,418.1 1972.4,414.8 C1969.4,411.5 1967.1,407.2 1965.1,403.9 C1963.1,400.6 1961.8,397.5 1960.6,394.8 C1959.4,392.1 1957.9,390.9 1957.9,387.6 Z" fill="#6babb1"/>
<path d="M1975,392 Q1990,384 2005,392 Q2020,398 2035,395 Q2050,400 2060,410" fill="none" stroke="#5a9fa6" stroke-width="6" stroke-linecap="round" opacity="0.55"/>
<g transform="translate(0.0,0.0)"><rect x="405" y="935.2" width="223" height="15.3" rx="7.6" fill="#c9ab62" stroke="#a98a35" stroke-width="1.5"/><rect x="516" y="931" width="14" height="25" fill="#b4902f" stroke="#9b7b28" stroke-width="1"/><rect x="449.3" y="923" width="71.4" height="40.8" rx="19" fill="#b4902f" stroke="#9b7b28" stroke-width="1.5"/><rect x="524.8" y="923" width="71.4" height="40.8" rx="19" fill="#b4902f" stroke="#9b7b28" stroke-width="1.5"/><path d="M310.6,905.7 C315.4,903.4 324.5,902.0 331.0,902.0 C337.5,902.0 345.6,903.2 349.4,906.0 C353.1,908.8 351.6,916.2 353.5,919.0 C355.4,921.8 358.4,923.0 360.6,923.0 C362.8,923.0 365.2,921.8 366.7,919.0 C368.2,916.2 366.9,908.8 369.8,906.0 C372.7,903.2 378.9,902.4 384.0,902.2 C389.1,902.0 396.0,902.4 400.4,904.7 C404.8,907.0 408.7,910.0 410.6,916.0 C412.5,922.0 411.9,932.9 411.6,940.4 C411.3,947.9 411.5,954.7 408.6,960.8 C405.7,966.9 400.1,973.2 394.3,977.0 C388.5,980.8 382.4,982.4 373.9,983.3 C365.4,984.2 352.5,983.9 343.3,982.2 C334.1,980.5 325.6,977.6 318.8,973.0 C312.0,968.4 305.6,961.2 302.4,954.7 C299.2,948.2 299.4,940.8 299.4,934.3 C299.4,927.8 300.5,920.8 302.4,916.0 C304.3,911.2 305.8,908.0 310.6,905.7 Z" fill="#f0a886"/></g>
<ellipse cx="431.6" cy="905.1" rx="33.0" ry="30.0" fill="#e31b4a" stroke="#141414" stroke-width="4.6"/><g transform="translate(433.9,908.5) scale(0.973,1)"><text class="r" x="-17.00" y="16.80" font-size="48.8" fill="#0c0c0c">P</text></g>
<g transform="translate(1267.3,-17.7)"><rect x="405" y="935.2" width="223" height="15.3" rx="7.6" fill="#c9ab62" stroke="#a98a35" stroke-width="1.5"/><rect x="516" y="931" width="14" height="25" fill="#b4902f" stroke="#9b7b28" stroke-width="1"/><rect x="449.3" y="923" width="71.4" height="40.8" rx="19" fill="#b4902f" stroke="#9b7b28" stroke-width="1.5"/><rect x="524.8" y="923" width="71.4" height="40.8" rx="19" fill="#b4902f" stroke="#9b7b28" stroke-width="1.5"/><path d="M310.6,905.7 C315.4,903.4 324.5,902.0 331.0,902.0 C337.5,902.0 345.6,903.2 349.4,906.0 C353.1,908.8 351.6,916.2 353.5,919.0 C355.4,921.8 358.4,923.0 360.6,923.0 C362.8,923.0 365.2,921.8 366.7,919.0 C368.2,916.2 366.9,908.8 369.8,906.0 C372.7,903.2 378.9,902.4 384.0,902.2 C389.1,902.0 396.0,902.4 400.4,904.7 C404.8,907.0 408.7,910.0 410.6,916.0 C412.5,922.0 411.9,932.9 411.6,940.4 C411.3,947.9 411.5,954.7 408.6,960.8 C405.7,966.9 400.1,973.2 394.3,977.0 C388.5,980.8 382.4,982.4 373.9,983.3 C365.4,984.2 352.5,983.9 343.3,982.2 C334.1,980.5 325.6,977.6 318.8,973.0 C312.0,968.4 305.6,961.2 302.4,954.7 C299.2,948.2 299.4,940.8 299.4,934.3 C299.4,927.8 300.5,920.8 302.4,916.0 C304.3,911.2 305.8,908.0 310.6,905.7 Z" fill="#f0a886"/></g>
<ellipse cx="1688.9" cy="908.0" rx="13.4" ry="12.2" fill="#e31b4a" stroke="#141414" stroke-width="4.5"/><g transform="translate(1689.9,909.2) scale(0.987,1)"><text class="r" x="-6.63" y="6.55" font-size="19.0" fill="#0c0c0c">P</text></g>
<g transform="translate(0.0,0.0)"><path d="M742.2,821.0 C743.4,823.8 748.7,831.0 749.5,838.0 C750.3,845.0 748.5,855.3 747.0,863.0 C745.5,870.7 742.7,877.2 740.8,884.0 C738.9,890.8 736.7,896.3 735.7,904.0 C734.7,911.7 735.1,925.7 735.0,930.0" fill="none" stroke="#4b1148" stroke-width="6.5" stroke-linecap="round"/><path d="M858.0,976.0 C859.3,973.7 865.0,967.0 866.0,962.0 C867.0,957.0 863.8,951.3 864.0,946.0 C864.2,940.7 864.0,934.7 867.0,930.0 C870.0,925.3 879.5,920.0 882.0,918.0" fill="none" stroke="#4b1148" stroke-width="6.5" stroke-linecap="round"/><path d="M930,858 L946,834" fill="none" stroke="#4b1148" stroke-width="6.5" stroke-linecap="round"/><path d="M1002.0,837.0 C1004.7,837.9 1012.3,841.8 1018.0,842.5 C1023.7,843.2 1030.4,843.2 1036.0,841.5 C1041.6,839.8 1048.9,833.6 1051.5,832.0" fill="none" stroke="#4b1148" stroke-width="6.5" stroke-linecap="round"/><path d="M726.5,944.5 C727.1,938.2 729.3,930.6 732.7,926.0 C736.1,921.4 741.8,918.2 746.9,917.0 C752.0,915.8 757.8,916.5 763.3,919.0 C768.8,921.5 772.8,927.3 779.6,932.2 C786.4,937.1 794.8,946.6 804.0,948.6 C813.2,950.6 826.9,945.5 834.7,944.5 C842.5,943.5 846.6,940.7 851.0,942.4 C855.4,944.1 859.3,949.9 861.2,954.7 C863.1,959.5 864.8,965.5 862.2,971.0 C859.6,976.5 855.5,982.4 845.8,988.0 C836.1,993.6 816.5,1002.0 804.2,1004.5 C791.9,1007.0 782.3,1005.9 772.2,1003.0 C762.1,1000.1 750.6,993.5 743.4,987.0 C736.2,980.5 731.8,971.1 729.0,964.0 C726.2,956.9 725.9,950.8 726.5,944.5 Z" fill="#96468a" stroke="#7d3574" stroke-width="1"/><path d="M873.5,903.7 C873.9,900.3 873.9,897.2 877.6,893.5 C881.3,889.8 891.5,885.6 895.9,881.2 C900.3,876.8 901.3,871.4 904.0,867.0 C906.7,862.6 908.5,857.1 912.2,854.7 C916.0,852.3 922.4,851.7 926.5,852.7 C930.6,853.7 934.0,856.0 936.7,860.8 C939.4,865.5 942.5,874.7 942.9,881.2 C943.2,887.7 941.9,894.2 938.8,899.6 C935.7,905.0 930.0,910.2 924.5,913.9 C919.0,917.6 912.6,920.8 906.1,922.0 C899.6,923.2 890.8,922.4 885.7,921.0 C880.6,919.6 877.5,916.8 875.5,913.9 C873.5,911.0 873.1,907.1 873.5,903.7 Z" fill="#a9679f" stroke="#8e4f88" stroke-width="1"/><path d="M943.5,826.0 C943.7,821.6 944.4,815.5 947.0,811.8 C949.6,808.1 954.1,805.4 959.2,803.7 C964.3,802.0 971.5,800.6 977.6,801.6 C983.7,802.6 991.3,806.1 995.9,809.8 C1000.5,813.5 1003.8,818.9 1005.0,824.0 C1006.2,829.1 1005.2,835.8 1003.0,840.4 C1000.8,845.0 996.0,850.1 991.8,851.6 C987.6,853.1 981.7,851.0 977.6,849.6 C973.5,848.2 971.1,844.4 967.3,843.5 C963.5,842.6 958.6,845.4 955.0,844.5 C951.4,843.6 947.8,841.5 945.9,838.4 C944.0,835.3 943.3,830.4 943.5,826.0 Z" fill="#c08fba" stroke="#a876a3" stroke-width="1"/></g>
<ellipse cx="813.0" cy="915.2" rx="30.1" ry="33.0" fill="#e31b4a" stroke="#141414" stroke-width="4.9"/><g transform="translate(819.8,912.0) scale(0.979,1)"><text class="r" x="-18.17" y="17.95" font-size="52.2" fill="#0c0c0c">P</text></g>
<ellipse cx="741.3" cy="848.2" rx="8.9" ry="7.7" fill="#e31b4a" stroke="#141414" stroke-width="2.2"/><g transform="translate(741.6,848.6) scale(1.016,1)"><text class="r" x="-3.54" y="3.50" font-size="10.2" fill="#0c0c0c">P</text></g>
<ellipse cx="940.0" cy="869.3" rx="8.9" ry="7.7" fill="#e31b4a" stroke="#141414" stroke-width="2.2"/><g transform="translate(940.3,869.7) scale(1.016,1)"><text class="r" x="-3.54" y="3.50" font-size="10.2" fill="#0c0c0c">P</text></g>
<g transform="translate(1266.0,-26.3)"><path d="M742.2,821.0 C743.4,823.8 748.7,831.0 749.5,838.0 C750.3,845.0 748.5,855.3 747.0,863.0 C745.5,870.7 742.7,877.2 740.8,884.0 C738.9,890.8 736.7,896.3 735.7,904.0 C734.7,911.7 735.1,925.7 735.0,930.0" fill="none" stroke="#4b1148" stroke-width="6.5" stroke-linecap="round"/><path d="M858.0,976.0 C859.3,973.7 865.0,967.0 866.0,962.0 C867.0,957.0 863.8,951.3 864.0,946.0 C864.2,940.7 864.0,934.7 867.0,930.0 C870.0,925.3 879.5,920.0 882.0,918.0" fill="none" stroke="#4b1148" stroke-width="6.5" stroke-linecap="round"/><path d="M930,858 L946,834" fill="none" stroke="#4b1148" stroke-width="6.5" stroke-linecap="round"/><path d="M1002.0,837.0 C1004.7,837.9 1012.3,841.8 1018.0,842.5 C1023.7,843.2 1030.4,843.2 1036.0,841.5 C1041.6,839.8 1048.9,833.6 1051.5,832.0" fill="none" stroke="#4b1148" stroke-width="6.5" stroke-linecap="round"/><path d="M726.5,944.5 C727.1,938.2 729.3,930.6 732.7,926.0 C736.1,921.4 741.8,918.2 746.9,917.0 C752.0,915.8 757.8,916.5 763.3,919.0 C768.8,921.5 772.8,927.3 779.6,932.2 C786.4,937.1 794.8,946.6 804.0,948.6 C813.2,950.6 826.9,945.5 834.7,944.5 C842.5,943.5 846.6,940.7 851.0,942.4 C855.4,944.1 859.3,949.9 861.2,954.7 C863.1,959.5 864.8,965.5 862.2,971.0 C859.6,976.5 855.5,982.4 845.8,988.0 C836.1,993.6 816.5,1002.0 804.2,1004.5 C791.9,1007.0 782.3,1005.9 772.2,1003.0 C762.1,1000.1 750.6,993.5 743.4,987.0 C736.2,980.5 731.8,971.1 729.0,964.0 C726.2,956.9 725.9,950.8 726.5,944.5 Z" fill="#96468a" stroke="#7d3574" stroke-width="1"/><path d="M873.5,903.7 C873.9,900.3 873.9,897.2 877.6,893.5 C881.3,889.8 891.5,885.6 895.9,881.2 C900.3,876.8 901.3,871.4 904.0,867.0 C906.7,862.6 908.5,857.1 912.2,854.7 C916.0,852.3 922.4,851.7 926.5,852.7 C930.6,853.7 934.0,856.0 936.7,860.8 C939.4,865.5 942.5,874.7 942.9,881.2 C943.2,887.7 941.9,894.2 938.8,899.6 C935.7,905.0 930.0,910.2 924.5,913.9 C919.0,917.6 912.6,920.8 906.1,922.0 C899.6,923.2 890.8,922.4 885.7,921.0 C880.6,919.6 877.5,916.8 875.5,913.9 C873.5,911.0 873.1,907.1 873.5,903.7 Z" fill="#a9679f" stroke="#8e4f88" stroke-width="1"/><path d="M943.5,826.0 C943.7,821.6 944.4,815.5 947.0,811.8 C949.6,808.1 954.1,805.4 959.2,803.7 C964.3,802.0 971.5,800.6 977.6,801.6 C983.7,802.6 991.3,806.1 995.9,809.8 C1000.5,813.5 1003.8,818.9 1005.0,824.0 C1006.2,829.1 1005.2,835.8 1003.0,840.4 C1000.8,845.0 996.0,850.1 991.8,851.6 C987.6,853.1 981.7,851.0 977.6,849.6 C973.5,848.2 971.1,844.4 967.3,843.5 C963.5,842.6 958.6,845.4 955.0,844.5 C951.4,843.6 947.8,841.5 945.9,838.4 C944.0,835.3 943.3,830.4 943.5,826.0 Z" fill="#c08fba" stroke="#a876a3" stroke-width="1"/></g>
<ellipse cx="1978.2" cy="823.1" rx="28.1" ry="28.9" fill="#e31b4a" stroke="#141414" stroke-width="4.5"/><g transform="translate(1983.3,821.6) scale(0.939,1)"><text class="r" x="-14.62" y="14.45" font-size="42.0" fill="#0c0c0c">P</text></g>
<ellipse cx="2080.8" cy="885.4" rx="30.2" ry="32.7" fill="#e31b4a" stroke="#141414" stroke-width="4.8"/><g transform="translate(2086.7,882.5) scale(0.969,1)"><text class="r" x="-18.37" y="18.15" font-size="52.8" fill="#0c0c0c">P</text></g>
<ellipse cx="2229.5" cy="860.2" rx="28.5" ry="28.5" fill="#e31b4a" stroke="#141414" stroke-width="4.2"/><g transform="translate(2234.8,858.7) scale(0.986,1)"><text class="r" x="-14.52" y="14.35" font-size="41.7" fill="#0c0c0c">P</text></g>
<polygon points="468.5,199.8 479.5,199.8 479.5,174.4 497.5,174.4 474.0,140.7 450.5,174.4 468.5,174.4" fill="#222222"/>
<polygon points="1250.7,198.2 1261.7,198.2 1261.7,173.3 1280.0,173.3 1256.2,132.0 1232.4,173.3 1250.7,173.3" fill="#222222"/>
<polygon points="493.6,362.9 535.4,362.9 535.4,344.1 576.2,367.6 535.4,391.1 535.4,372.3 493.6,372.3" fill="#222222"/>
<path d="M645,301 C620,318 606,345 617,366 C623,377 630,383 639,389" fill="none" stroke="#222222" stroke-width="10"/>
<polygon points="663.0,417.6 621.2,399.3 654.8,377.8" fill="#222222"/>
<path d="M234.0,945.0 C229.0,940.8 213.1,929.2 204.0,920.0 C194.9,910.8 185.6,901.5 179.4,889.6 C173.2,877.7 169.7,862.4 167.1,848.8 C164.5,835.2 164.0,821.6 163.9,808.0 C163.8,794.4 164.7,784.3 166.3,767.3 C167.9,750.3 170.5,726.5 173.3,706.1 C176.2,685.7 179.7,665.4 183.4,645.0 C187.1,624.6 191.6,604.9 195.7,583.8 C199.8,562.7 205.9,529.5 207.9,518.6" fill="none" stroke="#222222" stroke-width="10.0" stroke-linecap="butt"/>
<polygon points="227.5,438.0 163.2,506.5 255.4,528.0" fill="#222222"/>
<line x1="557.8" y1="570.7" x2="447.1" y2="804.6" stroke="#222222" stroke-width="3.8"/>
<line x1="433.9" y1="799.5" x2="462.4" y2="813.8" stroke="#222222" stroke-width="4.0"/>
<line x1="751.7" y1="551.1" x2="808.3" y2="849.3" stroke="#222222" stroke-width="3.8"/>
<line x1="793.3" y1="852.2" x2="823.3" y2="846.4" stroke="#222222" stroke-width="4.2"/>
<polygon points="248.3,891.3 258.5,891.3 258.5,865.8 276.9,865.8 253.4,828.0 229.9,865.8 248.3,865.8" fill="#222222"/>
<polygon points="590.0,767.0 600.2,767.0 600.2,793.4 619.1,793.4 595.1,833.2 571.1,793.4 590.0,793.4" fill="#222222"/>
<path d="M914,840.3 C880,806 830,792 771,804.5" fill="none" stroke="#222222" stroke-width="2" stroke-dasharray="2 2"/>
<polygon points="751.3,808.3 767.2,794.4 772.9,814.2" fill="#222222"/>
<path d="M1107.8,342.8 C1112.0,346.3 1125.0,354.5 1133.2,363.8 C1141.5,373.1 1150.7,385.7 1157.3,398.8 C1163.9,411.9 1168.9,426.6 1172.6,442.6 C1176.2,458.7 1178.6,477.6 1179.2,495.1 C1179.8,512.6 1178.3,530.1 1176.1,547.6 C1173.9,565.1 1170.6,582.6 1166.0,600.1 C1161.4,617.6 1155.1,635.2 1148.5,652.7 C1141.9,670.2 1134.6,687.7 1126.6,705.2 C1118.6,722.7 1109.5,740.9 1100.4,757.7 C1091.3,774.5 1081.0,791.3 1071.9,805.9 C1062.8,820.5 1052.5,834.9 1045.7,845.3 C1038.9,855.6 1033.5,864.2 1031.0,868.0" fill="none" stroke="#222222" stroke-width="9.4" stroke-linecap="butt"/>
<line x1="1003.5" y1="853.0" x2="1057.3" y2="887.6" stroke="#222222" stroke-width="9.4"/>
<polygon points="1081.4,915.8 1091.6,915.8 1091.6,941.3 1110.0,941.3 1086.5,982.0 1063.0,941.3 1081.4,941.3" fill="#222222"/>
<polygon points="673.0,988.0 687.0,988.0 687.0,1093.0 722.6,1093.0 680.0,1153.0 637.4,1093.0 673.0,1093.0" fill="#222222"/>
<polygon points="1731.1,121.3 1740.9,121.3 1740.9,146.8 1760.0,146.8 1736.0,187.6 1712.0,146.8 1731.1,146.8" fill="#222222"/>
<polygon points="2523.1,120.3 2532.9,120.3 2532.9,145.2 2552.0,145.2 2528.0,185.6 2504.0,145.2 2523.1,145.2" fill="#222222"/>
<polygon points="1709.0,341.6 1750.3,341.6 1750.3,322.9 1790.5,346.1 1750.3,369.3 1750.3,350.6 1709.0,350.6" fill="#222222"/>
<path d="M1848,287 C1828,300 1814,318 1818,337 C1821,354 1833,368 1844,378" fill="none" stroke="#222222" stroke-width="9.4"/>
<polygon points="1867.3,404.7 1826.5,391.4 1860.2,363.9" fill="#222222"/>
<polygon points="1792.8,319 1805,319 1852,396 1838.8,396" fill="#ee2224"/>
<polygon points="1838.8,319 1852,319 1806,396 1792.8,396" fill="#ee2224"/>
<path d="M1476.0,456.0 C1474.5,464.3 1470.4,486.8 1466.7,505.7 C1463.0,524.5 1457.9,548.0 1454.0,569.1 C1450.1,590.2 1446.2,611.5 1443.4,632.6 C1440.6,653.8 1438.5,678.4 1437.1,696.0 C1435.7,713.6 1435.0,724.2 1435.0,738.3 C1435.0,752.4 1435.7,766.4 1437.1,780.5 C1438.5,794.6 1440.6,810.1 1443.4,822.8 C1446.2,835.5 1449.8,846.1 1454.0,856.7 C1458.2,867.3 1462.8,876.8 1468.8,886.3 C1474.8,895.8 1481.9,905.2 1490.0,913.7 C1498.1,922.2 1512.8,933.1 1517.4,937.0" fill="none" stroke="#222222" stroke-width="4.8" stroke-linecap="butt" stroke-dasharray="6.4 8"/>
<polygon points="1484.0,419.0 1454.0,452.7 1500.0,461.8" fill="#222222"/>
<line x1="1849.4" y1="506.4" x2="1706.4" y2="861.1" stroke="#222222" stroke-width="8.0"/>
<line x1="1677.3" y1="848.9" x2="1735.4" y2="873.3" stroke="#222222" stroke-width="8.0"/>
<line x1="2006.4" y1="526.8" x2="2079.0" y2="831.0" stroke="#222222" stroke-width="4.7" stroke-dasharray="6 7.8"/>
<line x1="2065.8" y1="839.7" x2="2094.4" y2="832.2" stroke="#222222" stroke-width="3.6"/>
<polygon points="1517.7,813.2 1528.3,813.2 1528.3,839.7 1546.0,839.7 1523.0,879.5 1500.0,839.7 1517.7,839.7" fill="#222222"/>
<polygon points="1845.6,788.7 1856.0,788.7 1856.0,763.2 1874.2,763.2 1850.8,724.0 1827.4,763.2 1845.6,763.2" fill="#222222"/>
<polygon points="2048.0,760.8 2019.5,807.7 2076.0,810.2" fill="#222222"/>
<path d="M2176,818.3 C2150,785 2105,770 2066,783.5" fill="none" stroke="#333" stroke-width="6.5" stroke-dasharray="1.3 1.4"/>
<path d="M2382.6,327.1 C2387.0,331.0 2400.4,340.2 2408.8,350.3 C2417.2,360.4 2426.7,374.7 2432.9,387.5 C2439.1,400.3 2442.9,412.3 2446.0,426.9 C2449.1,441.5 2451.2,458.3 2451.7,475.1 C2452.2,491.9 2451.1,510.1 2449.1,527.6 C2447.1,545.1 2444.0,562.6 2439.5,580.1 C2435.0,597.6 2428.9,615.2 2422.0,632.7 C2415.1,650.2 2406.7,667.7 2397.9,685.2 C2389.1,702.7 2378.9,720.9 2369.4,737.7 C2359.9,754.5 2350.5,770.2 2341.0,785.9 C2331.5,801.6 2318.9,820.3 2312.5,831.8 C2306.1,843.3 2304.2,851.1 2302.5,855.0" fill="none" stroke="#222222" stroke-width="4.7" stroke-linecap="butt" stroke-dasharray="6 7.8"/>
<line x1="2289.7" y1="848.3" x2="2315.0" y2="864.8" stroke="#222222" stroke-width="3.6"/>
<polygon points="2391.3,965.0 2401.5,965.0 2401.5,939.2 2420.2,939.2 2396.4,900.5 2372.6,939.2 2391.3,939.2" fill="#222222"/>
<line x1="1947.3" y1="971.3" x2="1947.3" y2="1078.0" stroke="#222222" stroke-width="11.5" stroke-dasharray="7 6.4"/>
<polygon points="1906.4,1075.0 1992.1,1075.0 1948.0,1136.0" fill="#222222"/>
<text x="6.0" y="53.0" font-size="66.9" fill="#000" textLength="48.4" lengthAdjust="spacingAndGlyphs">A</text>
<text x="1360.8" y="52.6" font-size="66.3" fill="#000" textLength="45.8" lengthAdjust="spacingAndGlyphs">B</text>
<text x="668.6" y="74.6" font-size="66.9" fill="#135a8d" textLength="132.0" lengthAdjust="spacingAndGlyphs">TCR</text>
<text x="530.5" y="162.6" font-size="67.6" fill="#6a4897" textLength="166.2" lengthAdjust="spacingAndGlyphs">CD28</text>
<text x="788.9" y="220.6" font-size="68.4" fill="#e08328" textLength="131.5" lengthAdjust="spacingAndGlyphs">CD3</text>
<text x="271.6" y="193.0" font-size="67.3" fill="#1c1a1a" textLength="165.5" lengthAdjust="spacingAndGlyphs">CD45</text>
<text x="1054.3" y="191.0" font-size="67.3" fill="#1c1a1a" textLength="165.5" lengthAdjust="spacingAndGlyphs">CD45</text>
<text x="316.9" y="383.0" font-size="68.8" fill="#c5172d" textLength="139.7" lengthAdjust="spacingAndGlyphs">PKA</text>
<text x="403.2" y="462.5" font-size="70.6" fill="#c4519e" textLength="150.8" lengthAdjust="spacingAndGlyphs">pSer</text>
<text x="553.2" y="439.5" font-size="41.0" fill="#c4519e" textLength="65.7" lengthAdjust="spacingAndGlyphs">449</text>
<text x="756.5" y="514.4" font-size="68.2" fill="#1c1a1a" textLength="247.6" lengthAdjust="spacingAndGlyphs">PTPN22</text>
<text x="832.1" y="567.4" font-size="66.1" fill="#1c1a1a" textLength="98.7" lengthAdjust="spacingAndGlyphs">WT</text>
<text x="229.0" y="800.5" font-size="68.7" fill="#1c1a1a" textLength="205.5" lengthAdjust="spacingAndGlyphs">ZAP70</text>
<text x="283.3" y="868.5" font-size="58.1" fill="#e08328" textLength="120.9" lengthAdjust="spacingAndGlyphs">pTyr</text>
<text x="406.2" y="849.0" font-size="35.1" fill="#e08328" textLength="56.3" lengthAdjust="spacingAndGlyphs">319</text>
<text x="621.3" y="808.4" font-size="44.1" fill="#c8372d" textLength="91.8" lengthAdjust="spacingAndGlyphs">pTyr</text>
<text x="713.2" y="794.4" font-size="26.3" fill="#c8372d" textLength="42.2" lengthAdjust="spacingAndGlyphs">505</text>
<text x="843.5" y="774.0" font-size="66.5" fill="#1c1a1a" textLength="131.3" lengthAdjust="spacingAndGlyphs">LCK</text>
<text x="928.4" y="945.1" font-size="44.9" fill="#e08080" textLength="93.4" lengthAdjust="spacingAndGlyphs">pTyr</text>
<text x="1021.2" y="930.2" font-size="26.7" fill="#e08080" textLength="42.8" lengthAdjust="spacingAndGlyphs">192</text>
<text x="118.9" y="1216.6" font-size="70.5" fill="#1c1a1a" textLength="1077.8" lengthAdjust="spacingAndGlyphs">Promotes downstream signaling</text>
<text x="349.3" y="1300.0" font-size="70.5" fill="#1c1a1a" textLength="583.9" lengthAdjust="spacingAndGlyphs">and autoimmunity</text>
<text x="1900.5" y="55.5" font-size="67.3" fill="#135a8d" textLength="132.9" lengthAdjust="spacingAndGlyphs">TCR</text>
<text x="1747.0" y="145.8" font-size="67.8" fill="#6a4897" textLength="166.7" lengthAdjust="spacingAndGlyphs">CD28</text>
<text x="2021.2" y="203.0" font-size="68.4" fill="#e08328" textLength="131.6" lengthAdjust="spacingAndGlyphs">CD3</text>
<text x="1541.1" y="176.6" font-size="67.3" fill="#1c1a1a" textLength="165.5" lengthAdjust="spacingAndGlyphs">CD45</text>
<text x="2332.0" y="173.7" font-size="67.8" fill="#1c1a1a" textLength="166.5" lengthAdjust="spacingAndGlyphs">CD45</text>
<text x="1548.5" y="360.7" font-size="69.4" fill="#c5172d" textLength="140.7" lengthAdjust="spacingAndGlyphs">PKA</text>
<text x="1702.8" y="461.7" font-size="68.4" fill="#c4519e" textLength="102.3" lengthAdjust="spacingAndGlyphs">Ala</text>
<text x="1809.2" y="439.8" font-size="40.8" fill="#c4519e" textLength="65.3" lengthAdjust="spacingAndGlyphs">449</text>
<text x="2057.6" y="504.4" font-size="68.3" fill="#1c1a1a" textLength="248.0" lengthAdjust="spacingAndGlyphs">PTPN22</text>
<text x="2082.0" y="557.4" font-size="67.8" fill="#1c1a1a" textLength="199.3" lengthAdjust="spacingAndGlyphs">S449A</text>
<text x="1496.9" y="784.0" font-size="68.7" fill="#1c1a1a" textLength="205.6" lengthAdjust="spacingAndGlyphs">ZAP70</text>
<text x="1550.0" y="851.1" font-size="44.8" fill="#e08328" textLength="93.2" lengthAdjust="spacingAndGlyphs">pTyr</text>
<text x="1643.2" y="836.8" font-size="26.3" fill="#e08328" textLength="42.1" lengthAdjust="spacingAndGlyphs">319</text>
<text x="1877.3" y="765.8" font-size="54.9" fill="#c8372d" textLength="114.3" lengthAdjust="spacingAndGlyphs">pTyr</text>
<text x="1991.0" y="747.2" font-size="31.6" fill="#c8372d" textLength="50.7" lengthAdjust="spacingAndGlyphs">505</text>
<text x="2137.9" y="765.3" font-size="66.6" fill="#1c1a1a" textLength="131.6" lengthAdjust="spacingAndGlyphs">LCK</text>
<text x="2196.0" y="934.2" font-size="59.4" fill="#e08080" textLength="123.7" lengthAdjust="spacingAndGlyphs">pTyr</text>
<text x="2319.2" y="914.7" font-size="35.4" fill="#e08080" textLength="56.8" lengthAdjust="spacingAndGlyphs">192</text>
<text x="1421.3" y="1199.3" font-size="70.5" fill="#1c1a1a" textLength="1007.4" lengthAdjust="spacingAndGlyphs">Inhibits downstream signaling</text>
<text x="1615.4" y="1282.0" font-size="70.5" fill="#1c1a1a" textLength="597.4" lengthAdjust="spacingAndGlyphs">and autoimmunity</text>
</svg>
</body></html>
